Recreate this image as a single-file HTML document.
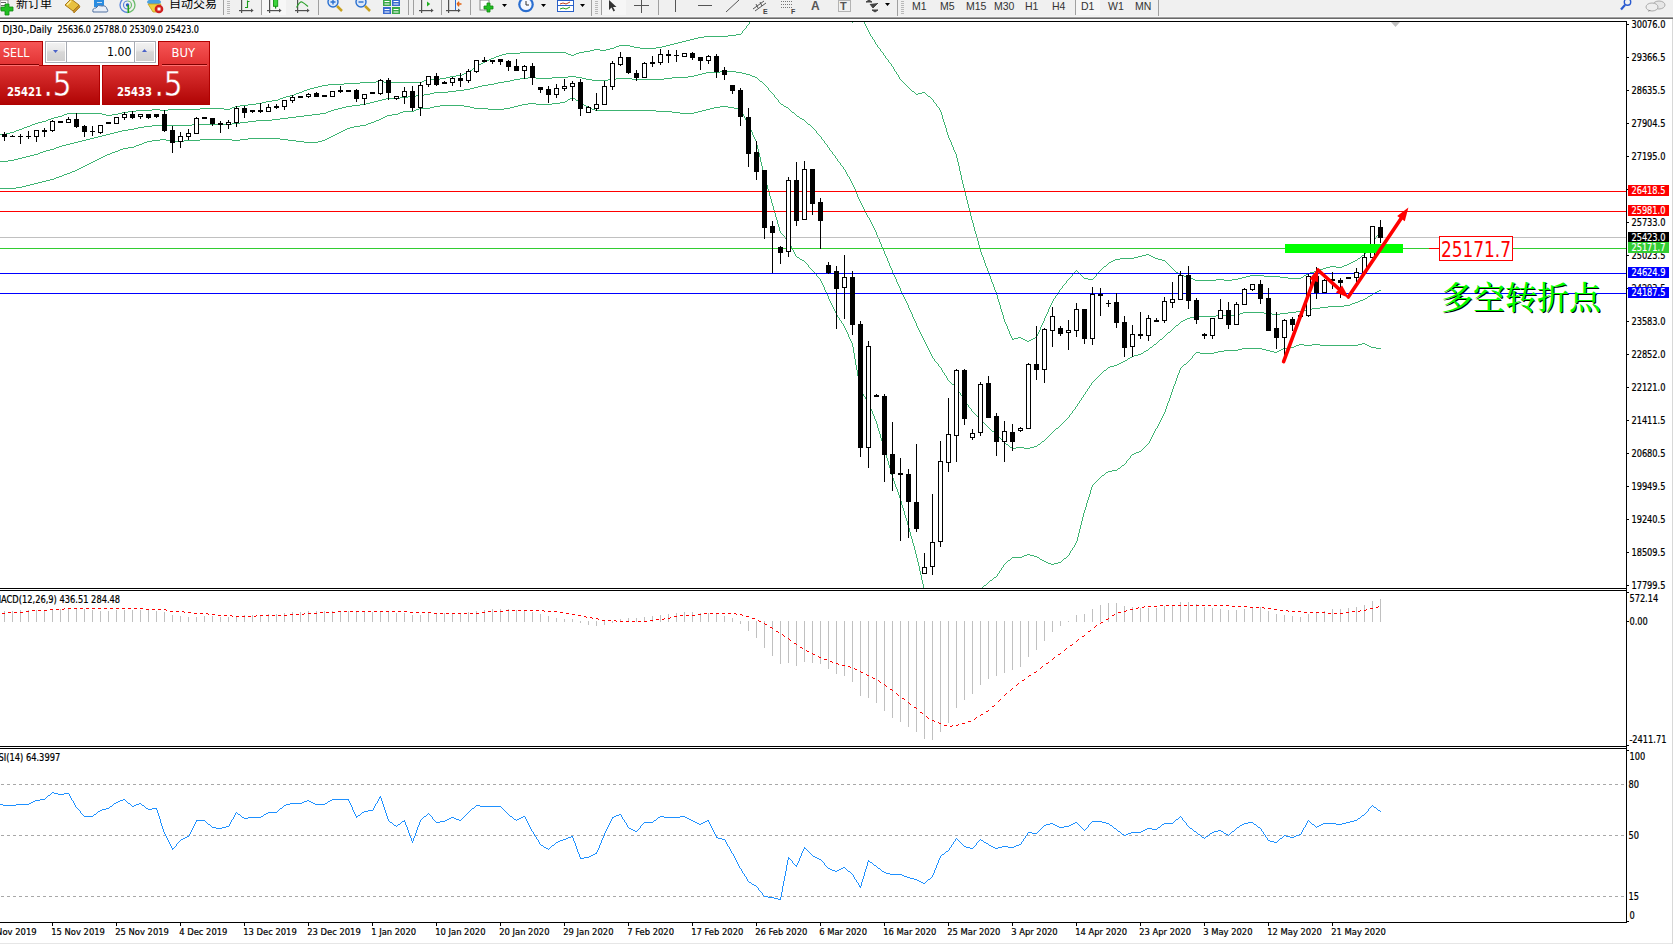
<!DOCTYPE html>
<html><head><meta charset="utf-8"><title>DJ30-,Daily</title>
<style>
html,body{margin:0;padding:0;width:1673px;height:944px;overflow:hidden;background:#fff}
body{position:relative;font-family:"Liberation Sans","Noto Sans CJK SC",sans-serif}
svg{position:absolute;left:0;top:0;display:block}
</style></head><body>
<svg width="1673" height="944" viewBox="0 0 1673 944" font-family="Liberation Sans, Noto Sans CJK SC, sans-serif">
<defs>
<clipPath id="cmain"><rect x="0" y="22" width="1626" height="566"/></clipPath>
<clipPath id="cmacd"><rect x="0" y="591" width="1626" height="155"/></clipPath>
<clipPath id="crsi"><rect x="0" y="749" width="1626" height="173"/></clipPath>
<linearGradient id="gTab" x1="0" y1="0" x2="0" y2="1"><stop offset="0" stop-color="#f65555"/><stop offset="1" stop-color="#e33434"/></linearGradient>
<linearGradient id="gBox" x1="0" y1="0" x2="0" y2="1"><stop offset="0" stop-color="#de3434"/><stop offset="1" stop-color="#b00404"/></linearGradient>
<linearGradient id="gBtn" x1="0" y1="0" x2="0" y2="1"><stop offset="0" stop-color="#f2f2f2"/><stop offset="0.4" stop-color="#e8e8e8"/><stop offset="0.5" stop-color="#d8d8d8"/><stop offset="1" stop-color="#d0d0d0"/></linearGradient>
<linearGradient id="gBoxU" gradientUnits="userSpaceOnUse" x1="0" y1="66" x2="0" y2="104"><stop offset="0" stop-color="#de3434"/><stop offset="1" stop-color="#b00404"/></linearGradient>
</defs>
<!-- toolbar -->
<rect x="0" y="0" width="1673" height="17" fill="#f0f0f0"/>
<rect x="0" y="16" width="1673" height="1" fill="#f5f5f5"/>
<rect x="0" y="17" width="1673" height="1" fill="#a0a0a0"/>
<rect x="0" y="18" width="1673" height="1" fill="#696969"/>
<rect x="1672" y="19" width="1" height="925" fill="#d8d8d8"/>
<rect x="0" y="943" width="1672" height="1" fill="#e6e6e6"/>
<g id="toolbar">
<!-- new order -->
<rect x="0" y="0" width="8" height="9" fill="#fff" stroke="#8a8a8a" stroke-width="1"/>
<rect x="1" y="2" width="5" height="1" fill="#666"/><rect x="1" y="5" width="5" height="1" fill="#666"/>
<path d="M5,4h4v3h4v4h-4v4h-4v-4h-4v-4h4z" fill="#22c022" stroke="#118811" stroke-width="0.8"/>
<text x="16" y="8" font-size="12" fill="#000" font-family="Liberation Sans, Noto Sans CJK SC, sans-serif">新订单</text>
<!-- gold book -->
<path d="M65,5 L71,-1 L79,5 L73,11 Z" fill="#e8c040" stroke="#a87818" stroke-width="1"/>
<path d="M73,11 L79,5 L80,7 L74,13 Z" fill="#c89028" stroke="#a87818" stroke-width="0.8"/>
<path d="M67,5 L71,1" stroke="#fff0a0" stroke-width="1.2"/>
<!-- cloud server -->
<rect x="94" y="0" width="10" height="7" fill="#2a8ce0"/>
<rect x="97" y="2" width="5" height="1" fill="#cde"/>
<path d="M93,12 q-1,-4 3,-4 q2,-4 6,-2 q4,-1 5,3 q2,3 -1,3 z" fill="#e8eef8" stroke="#5070a0" stroke-width="1"/>
<!-- signals -->
<path d="M127.5,-2.5 a7.5,7.5 0 0 0 0,15" fill="none" stroke="#5a86dc" stroke-width="1.3"/>
<path d="M127.5,-2.5 a7.5,7.5 0 0 1 0,15" fill="none" stroke="#6cbc6c" stroke-width="1.3"/>
<path d="M127.5,1 a4,4 0 0 0 0,8" fill="none" stroke="#5a86dc" stroke-width="1.2"/>
<path d="M127.5,1 a4,4 0 0 1 0,8" fill="none" stroke="#6cbc6c" stroke-width="1.2"/>
<circle cx="127.5" cy="5" r="1.7" fill="#2a5cc8"/>
<rect x="127.5" y="5" width="1.6" height="8" fill="#22a022"/>
<!-- autotrading -->
<ellipse cx="154" cy="2" rx="7" ry="3" fill="#4aa0e0"/>
<path d="M148,4 h13 l-4,8 h-4 z" fill="#f0d040" stroke="#c0a020" stroke-width="0.8"/>
<circle cx="159" cy="9" r="4.3" fill="#d02020"/>
<rect x="157.5" y="7.5" width="3" height="3" fill="#fff"/>
<text x="169" y="8" font-size="12" fill="#000" font-family="Liberation Sans, Noto Sans CJK SC, sans-serif">自动交易</text>
<!-- separators -->
<g fill="#a0a0a0">
<rect x="223" y="0" width="1" height="15"/><rect x="261" y="0" width="1" height="15"/><rect x="318" y="0" width="1" height="15"/>
<rect x="408" y="0" width="1" height="15"/><rect x="413" y="0" width="1" height="15"/><rect x="441" y="0" width="1" height="15"/>
<rect x="470" y="0" width="1" height="15"/><rect x="591" y="0" width="1" height="16"/><rect x="601" y="0" width="1" height="15"/>
<rect x="658" y="0" width="1" height="15"/><rect x="897" y="0" width="1" height="16"/><rect x="1075" y="0" width="1" height="15"/><rect x="1158" y="0" width="1" height="16"/>
</g>
<g fill="#b8b8b8">
<rect x="227" y="1" width="3" height="1"/><rect x="227" y="3" width="3" height="1"/><rect x="227" y="5" width="3" height="1"/><rect x="227" y="7" width="3" height="1"/><rect x="227" y="9" width="3" height="1"/><rect x="227" y="11" width="3" height="1"/><rect x="227" y="13" width="3" height="1"/>
<rect x="595" y="1" width="3" height="1"/><rect x="595" y="3" width="3" height="1"/><rect x="595" y="5" width="3" height="1"/><rect x="595" y="7" width="3" height="1"/><rect x="595" y="9" width="3" height="1"/><rect x="595" y="11" width="3" height="1"/><rect x="595" y="13" width="3" height="1"/>
<rect x="901" y="1" width="3" height="1"/><rect x="901" y="3" width="3" height="1"/><rect x="901" y="5" width="3" height="1"/><rect x="901" y="7" width="3" height="1"/><rect x="901" y="9" width="3" height="1"/><rect x="901" y="11" width="3" height="1"/><rect x="901" y="13" width="3" height="1"/>
</g>
<!-- selected button backgrounds -->
<rect x="262" y="0" width="24" height="15" fill="#f7f7f7"/>
<rect x="602" y="0" width="24" height="15" fill="#f6f6f6"/>
<rect x="1076" y="0" width="24" height="15" fill="#f6f6f6"/>
<!-- chart type icons -->
<rect x="241" y="0" width="1.2" height="13" fill="#505050"/><rect x="239" y="10" width="13" height="1.2" fill="#505050"/><path d="M251,8.6 l2.6,2 l-2.6,2 z" fill="#505050"/><rect x="269" y="0" width="1.2" height="13" fill="#505050"/><rect x="267" y="10" width="13" height="1.2" fill="#505050"/><path d="M279,8.6 l2.6,2 l-2.6,2 z" fill="#505050"/><rect x="297" y="0" width="1.2" height="13" fill="#505050"/><rect x="295" y="10" width="13" height="1.2" fill="#505050"/><path d="M307,8.6 l2.6,2 l-2.6,2 z" fill="#505050"/>
<path d="M245,7.5h2.5v-7M247.5,1.5h2" fill="none" stroke="#1a9a1a" stroke-width="1.1"/>
<rect x="273.5" y="-1" width="4.2" height="7.3" fill="#3cd33c" stroke="#139013" stroke-width="0.9"/><rect x="275" y="6" width="1.2" height="2.6" fill="#139013"/>
<path d="M296.5,7.5 Q300,1 302,2 T308,6.5" fill="none" stroke="#2aa02a" stroke-width="1.1"/>
<rect x="421" y="0" width="1.2" height="13" fill="#505050"/><rect x="419" y="10" width="13" height="1.2" fill="#505050"/><path d="M431,8.6 l2.6,2 l-2.6,2 z" fill="#505050"/><rect x="448" y="0" width="1.2" height="13" fill="#505050"/><rect x="446" y="10" width="13" height="1.2" fill="#505050"/><path d="M458,8.6 l2.6,2 l-2.6,2 z" fill="#505050"/>
<path d="M427,1.5 v5 l3.2,-2.5 z" fill="#20b020"/>
<rect x="455" y="0" width="1" height="10" fill="#2a6ad0"/><path d="M461.5,4h-4.5M457,4l2.2,-2.2M457,4l2.2,2.2" stroke="#e06010" stroke-width="1.3" fill="none"/>
<!-- zoom icons -->
<circle cx="333" cy="2" r="5" fill="#dce8f8" stroke="#2a70d0" stroke-width="1.4"/>
<path d="M330.5,2h5M333,-0.5v5" stroke="#2a70d0" stroke-width="1.4"/>
<path d="M337,6l5,5" stroke="#c8a020" stroke-width="2.5"/>
<circle cx="361" cy="2" r="5" fill="#dce8f8" stroke="#2a70d0" stroke-width="1.4"/>
<path d="M358.5,2h5" stroke="#2a70d0" stroke-width="1.4"/>
<path d="M365,6l5,5" stroke="#c8a020" stroke-width="2.5"/>
<!-- tile -->
<rect x="383" y="-1" width="8" height="7" fill="#3aa848"/><rect x="392" y="-1" width="8" height="7" fill="#3a6ad0"/>
<rect x="383" y="7" width="8" height="7" fill="#3a6ad0"/><rect x="392" y="7" width="8" height="7" fill="#3aa848"/>
<rect x="384.5" y="1" width="5" height="1" fill="#fff"/><rect x="393.5" y="1" width="5" height="1" fill="#fff"/>
<rect x="384.5" y="3.5" width="5" height="1" fill="#fff"/><rect x="393.5" y="3.5" width="5" height="1" fill="#fff"/>
<rect x="384.5" y="9" width="5" height="1" fill="#fff"/><rect x="393.5" y="9" width="5" height="1" fill="#fff"/>
<rect x="384.5" y="11.5" width="5" height="1" fill="#fff"/><rect x="393.5" y="11.5" width="5" height="1" fill="#fff"/>
<!-- indicators/periods/templates -->
<rect x="480" y="0" width="9" height="10" fill="#fff" stroke="#888" stroke-width="1"/>
<path d="M487,3h3v3h3v3h-3v3h-3v-3h-3v-3h3z" fill="#22c022" stroke="#118811" stroke-width="0.8"/>
<path d="M502,4h5l-2.5,3z M541,4h5l-2.5,3z M580,4h5l-2.5,3z M885,3h5l-2.5,3z" fill="#000"/>
<circle cx="526" cy="4.5" r="7.8" fill="#2a6ed0"/><circle cx="526" cy="4.5" r="5.6" fill="#f4f8ff"/>
<path d="M526,1v4h3" stroke="#333" stroke-width="1" fill="none"/>
<rect x="557.5" y="0.5" width="16" height="11" fill="#fff" stroke="#2a60c8" stroke-width="1"/>
<rect x="558" y="5" width="15" height="1" fill="#2a60c8"/>
<path d="M560,4 l3,-1 l3,1 l4,-2" stroke="#c04020" fill="none" stroke-width="1"/>
<path d="M560,9 l3,-1 l3,1 l4,-2" stroke="#20a020" fill="none" stroke-width="1"/>
<!-- drawing tools -->
<path d="M609,0 v10 l2.5,-2.5 l2,4 l1.5,-1 l-2,-3.5 h3.5 z" fill="#333"/>
<path d="M634,5.5h15M641.5,0v13" stroke="#555" stroke-width="1" fill="none"/>
<rect x="675" y="0" width="1" height="12" fill="#555"/>
<rect x="698" y="5" width="14" height="1" fill="#555"/>
<path d="M726,12 L739,0" stroke="#555" stroke-width="1"/>
<path d="M753,9 L764,1 M755,11 L766,3 M756,4 l2,4 M760,2 l2,4" stroke="#555" stroke-width="1" fill="none"/>
<text x="763" y="14" font-size="7" font-weight="bold" fill="#444">E</text>
<path d="M781,1.5h12M781,4.5h12M781,7.5h12" stroke="#777" stroke-width="1" stroke-dasharray="1,1" fill="none"/>
<text x="791" y="14" font-size="7" font-weight="bold" fill="#444">F</text>
<text x="811" y="10" font-size="12" font-weight="bold" fill="#555">A</text>
<rect x="838.5" y="0.5" width="12" height="11" fill="none" stroke="#777" stroke-width="1" stroke-dasharray="1,1"/>
<text x="840" y="10" font-size="11" font-weight="bold" fill="#555">T</text>
<path d="M866,2 l3,-2 l3,2 z M870,4 l3,4 l5,-5 M872,10 l3,2 l3,-2z" fill="#444" stroke="#444" stroke-width="1"/>
<!-- periods -->
<g font-size="10.5" fill="#333" font-family="Liberation Sans, sans-serif">
<text x="912" y="10">M1</text><text x="940" y="10">M5</text><text x="966" y="10">M15</text><text x="994" y="10">M30</text>
<text x="1025" y="10">H1</text><text x="1052" y="10">H4</text><text x="1081" y="10">D1</text><text x="1108" y="10">W1</text><text x="1135" y="10">MN</text>
</g>
<!-- right icons -->
<circle cx="1627.5" cy="2" r="3.2" fill="none" stroke="#2a5ad0" stroke-width="1.4"/>
<path d="M1625,5 l-4,4.5" stroke="#2a5ad0" stroke-width="2.2"/>
<ellipse cx="1659" cy="5" rx="6" ry="4" fill="#e6e6e6" stroke="#999" stroke-width="0.8"/>
<ellipse cx="1652" cy="7" rx="6" ry="4" fill="#eee" stroke="#999" stroke-width="0.8"/>
<path d="M1649,10 l-1,2 l3,-2z" fill="#888"/>
</g>

<!-- frames -->
<rect x="0" y="21" width="1627" height="1" fill="#000"/>
<rect x="0" y="588" width="1627" height="1" fill="#000"/>
<rect x="0" y="590" width="1627" height="1" fill="#000"/>
<rect x="0" y="746" width="1627" height="1" fill="#000"/>
<rect x="0" y="748" width="1627" height="1" fill="#000"/>
<rect x="0" y="922" width="1627" height="1" fill="#000"/>
<rect x="1626" y="21" width="1" height="902" fill="#000"/>
<g clip-path="url(#cmain)" shape-rendering="crispEdges">
<path d="M-4 135h4v1h-4zM0 134h6v1h-6zM6 133h4v1h-4zM10 132h4v1h-4zM14 131h2v1h-2zM16 130h3v1h-3zM19 129h3v1h-3zM22 128h2v1h-2zM24 127h3v1h-3zM27 126h3v1h-3zM30 125h2v1h-2zM32 124h3v1h-3zM35 123h3v1h-3zM38 122h4v1h-4zM42 121h4v1h-4zM46 120h2v1h-2zM48 119h3v1h-3zM51 118h3v1h-3zM54 117h4v1h-4zM58 116h4v1h-4zM62 115h2v1h-2zM64 114h3v1h-3zM67 113h35v1h-35zM102 114h4v1h-4zM106 115h6v1h-6zM112 114h6v1h-6zM118 113h4v1h-4zM122 112h6v1h-6zM128 111h8v1h-8zM136 110h16v1h-16zM152 109h8v1h-8zM160 110h8v1h-8zM168 109h32v1h-32zM200 108h24v1h-24zM224 109h6v1h-6zM230 108h2v1h-2zM232 107h3v1h-3zM235 106h5v1h-5zM240 105h8v1h-8zM248 104h8v1h-8zM256 103h6v1h-6zM262 102h4v1h-4zM266 101h6v1h-6zM272 100h6v1h-6zM278 99h2v1h-2zM280 98h3v1h-3zM283 97h3v1h-3zM286 96h4v1h-4zM290 95h4v1h-4zM294 94h2v1h-2zM296 93h3v1h-3zM299 92h3v1h-3zM302 91h2v1h-2zM304 90h3v1h-3zM307 89h3v1h-3zM310 88h4v1h-4zM314 87h4v1h-4zM318 86h4v1h-4zM322 85h6v1h-6zM328 84h16v1h-16zM344 83h16v1h-16zM360 82h16v1h-16zM376 81h8v1h-8zM384 82h38v1h-38zM422 81h2v1h-2zM424 80h3v1h-3zM427 79h13v1h-13zM440 78h6v1h-6zM446 77h4v1h-4zM450 76h6v1h-6zM456 75h6v1h-6zM462 74h2v1h-2zM464 73h3v1h-3zM467 72h2v1h-2zM469 71h1v1h-1zM470 70h2v1h-2zM472 69h1v1h-1zM473 68h1v1h-1zM474 67h2v1h-2zM476 66h1v1h-1zM477 65h2v1h-2zM479 64h2v1h-2zM481 63h2v1h-2zM483 62h2v1h-2zM485 61h2v1h-2zM487 60h2v1h-2zM489 59h2v1h-2zM491 58h3v1h-3zM494 57h2v1h-2zM496 56h3v1h-3zM499 55h3v1h-3zM502 54h4v1h-4zM506 53h14v1h-14zM520 52h46v1h-46zM566 53h2v1h-2zM568 54h3v1h-3zM571 55h3v1h-3zM574 54h2v1h-2zM576 53h3v1h-3zM579 52h5v1h-5zM584 51h6v1h-6zM590 50h4v1h-4zM594 49h6v1h-6zM600 50h6v1h-6zM606 49h4v1h-4zM610 48h4v1h-4zM614 47h2v1h-2zM616 46h3v1h-3zM619 45h11v1h-11zM630 46h4v1h-4zM634 47h6v1h-6zM640 48h16v1h-16zM656 47h6v1h-6zM662 46h4v1h-4zM666 45h4v1h-4zM670 44h4v1h-4zM674 43h4v1h-4zM678 42h4v1h-4zM682 41h4v1h-4zM686 40h4v1h-4zM690 39h4v1h-4zM694 38h4v1h-4zM698 37h6v1h-6zM704 36h24v1h-24zM728 35h8v1h-8zM736 34h5v1h-5zM741 33h1v1h-1zM742 31h1v2h-1zM743 30h1v1h-1zM744 29h1v1h-1zM745 28h1v1h-1zM746 26h1v2h-1zM747 25h1v1h-1zM748 24h1v1h-1zM749 22h1v2h-1zM750 21h1v1h-1zM751 20h1v1h-1zM752 18h1v2h-1zM753 17h1v1h-1zM754 16h1v1h-1zM755 14h1v2h-1zM756 12h1v2h-1zM757 10h1v2h-1zM758 7h1v3h-1zM759 5h1v2h-1zM760 2h1v3h-1zM761 0h1v2h-1zM762 -3h1v3h-1zM763 -5h1v2h-1zM764 -7h1v2h-1zM765 -9h1v2h-1zM766 -10h1v1h-1zM767 -11h1v1h-1zM768 -13h1v2h-1zM769 -14h1v1h-1zM770 -15h1v1h-1zM771 -17h1v2h-1zM772 -18h1v1h-1zM773 -19h1v1h-1zM774 -20h1v1h-1zM775 -21h1v1h-1zM776 -23h1v2h-1zM777 -24h1v1h-1zM778 -25h1v1h-1zM779 -26h1v1h-1zM780 -27h2v1h-2zM782 -26h4v1h-4zM786 -25h6v1h-6zM792 -26h5v1h-5zM797 -25h1v1h-1zM798 -24h2v1h-2zM800 -23h1v1h-1zM801 -22h1v1h-1zM802 -21h2v1h-2zM804 -20h1v1h-1zM805 -19h2v1h-2zM807 -18h1v1h-1zM808 -17h2v1h-2zM810 -16h2v1h-2zM812 -15h1v1h-1zM813 -14h1v1h-1zM814 -13h1v1h-1zM815 -12h1v1h-1zM816 -11h2v1h-2zM818 -10h1v1h-1zM819 -9h1v1h-1zM820 -8h1v1h-1zM821 -7h2v1h-2zM823 -6h2v1h-2zM825 -5h2v1h-2zM827 -4h2v1h-2zM829 -3h1v1h-1zM830 -2h2v1h-2zM832 -1h1v1h-1zM833 0h1v1h-1zM834 1h2v1h-2zM836 2h1v1h-1zM837 3h1v2h-1zM838 5h1v1h-1zM839 6h1v1h-1zM840 7h1v2h-1zM841 9h1v1h-1zM842 10h1v1h-1zM843 11h1v2h-1zM844 13h1v1h-1zM845 14h1v1h-1zM846 15h1v1h-1zM847 16h1v1h-1zM848 17h1v2h-1zM849 19h1v1h-1zM850 20h1v1h-1zM851 21h1v1h-1zM852 22h1v1h-1zM853 21h1v1h-1zM854 20h1v1h-1zM855 19h1v1h-1zM856 18h1v1h-1zM857 17h1v1h-1zM858 16h1v1h-1zM859 15h1v1h-1zM860 14h1v2h-1zM861 16h1v2h-1zM862 18h1v2h-1zM863 20h1v2h-1zM864 22h1v2h-1zM865 24h1v2h-1zM866 26h1v2h-1zM867 28h1v2h-1zM868 30h1v2h-1zM869 32h1v2h-1zM870 34h1v2h-1zM871 36h1v1h-1zM872 37h1v2h-1zM873 39h1v1h-1zM874 40h1v2h-1zM875 42h1v2h-1zM876 44h1v1h-1zM877 45h1v2h-1zM878 47h1v1h-1zM879 48h1v1h-1zM880 49h1v2h-1zM881 51h1v1h-1zM882 52h1v1h-1zM883 53h1v2h-1zM884 55h1v1h-1zM885 56h1v2h-1zM886 58h1v1h-1zM887 59h1v1h-1zM888 60h1v2h-1zM889 62h1v1h-1zM890 63h1v1h-1zM891 64h1v2h-1zM892 66h1v1h-1zM893 67h1v2h-1zM894 69h1v2h-1zM895 71h1v1h-1zM896 72h1v2h-1zM897 74h1v1h-1zM898 75h1v2h-1zM899 77h1v2h-1zM900 79h1v1h-1zM901 80h1v1h-1zM902 81h1v1h-1zM903 82h1v1h-1zM904 83h1v1h-1zM905 84h1v1h-1zM906 85h1v1h-1zM907 86h1v1h-1zM908 87h1v1h-1zM909 88h1v1h-1zM910 89h1v1h-1zM911 90h1v1h-1zM912 91h2v1h-2zM914 92h1v1h-1zM915 93h1v1h-1zM916 94h2v1h-2zM918 93h4v1h-4zM922 92h3v1h-3zM925 93h1v1h-1zM926 94h1v1h-1zM927 95h1v1h-1zM928 96h2v1h-2zM930 97h1v1h-1zM931 98h1v1h-1zM932 99h1v1h-1zM933 100h1v2h-1zM934 102h1v1h-1zM935 103h1v1h-1zM936 104h1v2h-1zM937 106h1v1h-1zM938 107h1v1h-1zM939 108h1v2h-1zM940 110h1v2h-1zM941 112h1v3h-1zM942 115h1v4h-1zM943 119h1v3h-1zM944 122h1v3h-1zM945 125h1v3h-1zM946 128h1v4h-1zM947 132h1v3h-1zM948 135h1v3h-1zM949 138h1v2h-1zM950 140h1v2h-1zM951 142h1v3h-1zM952 145h1v2h-1zM953 147h1v3h-1zM954 150h1v2h-1zM955 152h1v2h-1zM956 154h1v4h-1zM957 158h1v4h-1zM958 162h1v4h-1zM959 166h1v5h-1zM960 171h1v4h-1zM961 175h1v5h-1zM962 180h1v4h-1zM963 184h1v4h-1zM964 188h1v4h-1zM965 192h1v4h-1zM966 196h1v4h-1zM967 200h1v4h-1zM968 204h1v4h-1zM969 208h1v4h-1zM970 212h1v4h-1zM971 216h1v4h-1zM972 220h1v3h-1zM973 223h1v4h-1zM974 227h1v4h-1zM975 231h1v3h-1zM976 234h1v4h-1zM977 238h1v3h-1zM978 241h1v4h-1zM979 245h1v4h-1zM980 249h1v3h-1zM981 252h1v3h-1zM982 255h1v2h-1zM983 257h1v3h-1zM984 260h1v3h-1zM985 263h1v3h-1zM986 266h1v2h-1zM987 268h1v3h-1zM988 271h1v3h-1zM989 274h1v2h-1zM990 276h1v3h-1zM991 279h1v3h-1zM992 282h1v2h-1zM993 284h1v3h-1zM994 287h1v3h-1zM995 290h1v2h-1zM996 292h1v3h-1zM997 295h1v4h-1zM998 299h1v3h-1zM999 302h1v3h-1zM1000 305h1v4h-1zM1001 309h1v3h-1zM1002 312h1v3h-1zM1003 315h1v4h-1zM1004 319h1v3h-1zM1005 322h1v2h-1zM1006 324h1v2h-1zM1007 326h1v3h-1zM1008 329h1v2h-1zM1009 331h1v3h-1zM1010 334h1v2h-1zM1011 336h1v2h-1zM1012 338h1v2h-1zM1013 339h1v1h-1zM1014 338h4v1h-4zM1018 337h3v1h-3zM1021 338h2v1h-2zM1023 339h2v1h-2zM1025 340h2v1h-2zM1027 341h2v1h-2zM1029 340h2v1h-2zM1031 339h2v1h-2zM1033 338h2v1h-2zM1035 337h2v1h-2zM1036 336h1v1h-1zM1037 334h1v2h-1zM1038 332h1v2h-1zM1039 330h1v2h-1zM1040 327h1v3h-1zM1041 325h1v2h-1zM1042 323h1v2h-1zM1043 321h1v2h-1zM1044 318h1v3h-1zM1045 316h1v2h-1zM1046 314h1v2h-1zM1047 312h1v2h-1zM1048 309h1v3h-1zM1049 307h1v2h-1zM1050 305h1v2h-1zM1051 303h1v2h-1zM1052 301h1v2h-1zM1053 299h1v2h-1zM1054 298h1v1h-1zM1055 296h1v2h-1zM1056 295h1v1h-1zM1057 293h1v2h-1zM1058 292h1v1h-1zM1059 290h1v2h-1zM1060 289h1v1h-1zM1061 288h1v1h-1zM1062 286h1v2h-1zM1063 285h1v1h-1zM1064 284h1v1h-1zM1065 283h1v1h-1zM1066 281h1v2h-1zM1067 280h1v1h-1zM1068 279h1v1h-1zM1069 278h1v1h-1zM1070 277h1v1h-1zM1071 276h1v1h-1zM1072 274h1v2h-1zM1073 273h1v1h-1zM1074 272h1v1h-1zM1075 271h1v1h-1zM1076 270h1v1h-1zM1077 271h1v1h-1zM1078 272h1v1h-1zM1079 273h1v1h-1zM1080 274h1v1h-1zM1081 275h1v1h-1zM1082 276h1v1h-1zM1083 277h1v1h-1zM1084 278h4v1h-4zM1088 279h5v1h-5zM1093 278h1v1h-1zM1094 277h1v1h-1zM1095 276h1v1h-1zM1096 274h1v2h-1zM1097 273h1v1h-1zM1098 272h1v1h-1zM1099 271h1v1h-1zM1100 270h1v1h-1zM1101 269h1v1h-1zM1102 268h1v1h-1zM1103 267h1v1h-1zM1104 266h2v1h-2zM1106 265h1v1h-1zM1107 264h1v1h-1zM1108 263h1v1h-1zM1109 262h2v1h-2zM1111 261h2v1h-2zM1113 260h2v1h-2zM1115 259h5v1h-5zM1120 258h14v1h-14zM1134 257h4v1h-4zM1138 256h4v1h-4zM1142 255h4v1h-4zM1146 254h3v1h-3zM1149 255h2v1h-2zM1151 256h2v1h-2zM1153 257h2v1h-2zM1155 258h3v1h-3zM1158 259h4v1h-4zM1162 260h3v1h-3zM1165 261h1v1h-1zM1166 262h1v1h-1zM1167 263h1v1h-1zM1168 264h1v1h-1zM1169 265h1v1h-1zM1170 266h1v1h-1zM1171 267h1v1h-1zM1172 268h1v1h-1zM1173 269h1v1h-1zM1174 270h1v1h-1zM1175 271h1v1h-1zM1176 272h2v1h-2zM1178 273h1v1h-1zM1179 274h1v1h-1zM1180 275h4v1h-4zM1184 276h5v1h-5zM1189 277h2v1h-2zM1191 278h2v1h-2zM1193 279h2v1h-2zM1195 280h21v1h-21zM1216 279h8v1h-8zM1224 280h8v1h-8zM1232 279h6v1h-6zM1238 278h4v1h-4zM1242 277h4v1h-4zM1246 276h4v1h-4zM1250 275h14v1h-14zM1264 276h16v1h-16zM1280 277h8v1h-8zM1288 278h13v1h-13zM1301 277h2v1h-2zM1303 276h1v1h-1zM1304 275h2v1h-2zM1306 274h2v1h-2zM1308 273h2v1h-2zM1310 272h4v1h-4zM1314 271h4v1h-4zM1318 270h2v1h-2zM1320 269h3v1h-3zM1323 268h3v1h-3zM1326 267h4v1h-4zM1330 266h6v1h-6zM1336 267h6v1h-6zM1342 266h2v1h-2zM1344 265h3v1h-3zM1347 264h2v1h-2zM1349 263h2v1h-2zM1351 262h2v1h-2zM1353 261h2v1h-2zM1355 260h2v1h-2zM1357 259h1v1h-1zM1358 258h2v1h-2zM1360 257h1v1h-1zM1361 256h1v1h-1zM1362 255h2v1h-2zM1364 254h1v1h-1zM1365 252h1v2h-1zM1366 250h1v2h-1zM1367 249h1v1h-1zM1368 247h1v2h-1zM1369 246h1v1h-1zM1370 244h1v2h-1zM1371 242h1v2h-1zM1372 241h1v1h-1zM1373 240h1v1h-1zM1374 239h1v1h-1zM1375 238h1v1h-1zM1376 236h1v2h-1zM1377 235h1v1h-1zM1378 234h1v1h-1zM1379 233h1v1h-1zM1380 232h1v1h-1z" fill="#3cb371"/>
<path d="M-4 161h12v1h-12zM8 160h6v1h-6zM14 159h4v1h-4zM18 158h4v1h-4zM22 157h4v1h-4zM26 156h4v1h-4zM30 155h4v1h-4zM34 154h4v1h-4zM38 153h2v1h-2zM40 152h3v1h-3zM43 151h3v1h-3zM46 150h4v1h-4zM50 149h4v1h-4zM54 148h2v1h-2zM56 147h3v1h-3zM59 146h3v1h-3zM62 145h4v1h-4zM66 144h4v1h-4zM70 143h4v1h-4zM74 142h4v1h-4zM78 141h4v1h-4zM82 140h4v1h-4zM86 139h4v1h-4zM90 138h4v1h-4zM94 137h4v1h-4zM98 136h4v1h-4zM102 135h4v1h-4zM106 134h4v1h-4zM110 133h4v1h-4zM114 132h4v1h-4zM118 131h4v1h-4zM122 130h6v1h-6zM128 129h6v1h-6zM134 128h4v1h-4zM138 127h6v1h-6zM144 126h8v1h-8zM152 125h40v1h-40zM192 124h40v1h-40zM232 123h8v1h-8zM240 122h8v1h-8zM248 121h8v1h-8zM256 120h16v1h-16zM272 119h8v1h-8zM280 118h8v1h-8zM288 117h8v1h-8zM296 116h8v1h-8zM304 115h8v1h-8zM312 114h8v1h-8zM320 113h6v1h-6zM326 112h2v1h-2zM328 111h3v1h-3zM331 110h3v1h-3zM334 109h4v1h-4zM338 108h4v1h-4zM342 107h4v1h-4zM346 106h6v1h-6zM352 105h8v1h-8zM360 104h6v1h-6zM366 103h4v1h-4zM370 102h4v1h-4zM374 101h4v1h-4zM378 100h4v1h-4zM382 99h4v1h-4zM386 98h14v1h-14zM400 97h8v1h-8zM408 96h8v1h-8zM416 95h8v1h-8zM424 94h6v1h-6zM430 93h4v1h-4zM434 92h14v1h-14zM448 91h8v1h-8zM456 90h8v1h-8zM464 89h6v1h-6zM470 88h4v1h-4zM474 87h4v1h-4zM478 86h4v1h-4zM482 85h6v1h-6zM488 84h6v1h-6zM494 83h4v1h-4zM498 82h6v1h-6zM504 81h6v1h-6zM510 80h4v1h-4zM514 79h6v1h-6zM520 78h8v1h-8zM528 77h8v1h-8zM536 78h16v1h-16zM552 77h16v1h-16zM568 76h8v1h-8zM576 77h6v1h-6zM582 78h4v1h-4zM586 79h6v1h-6zM592 80h16v1h-16zM608 79h8v1h-8zM616 78h16v1h-16zM632 79h32v1h-32zM664 78h8v1h-8zM672 77h16v1h-16zM688 76h6v1h-6zM694 75h4v1h-4zM698 74h4v1h-4zM702 73h4v1h-4zM706 72h14v1h-14zM720 71h16v1h-16zM736 72h6v1h-6zM742 73h4v1h-4zM746 74h4v1h-4zM750 75h2v1h-2zM752 76h3v1h-3zM755 77h2v1h-2zM757 78h1v1h-1zM758 79h1v1h-1zM759 80h1v1h-1zM760 81h2v1h-2zM762 82h1v1h-1zM763 83h1v1h-1zM764 84h1v1h-1zM765 85h1v1h-1zM766 86h1v1h-1zM767 87h1v1h-1zM768 88h1v2h-1zM769 90h1v1h-1zM770 91h1v1h-1zM771 92h1v1h-1zM772 93h1v1h-1zM773 94h1v1h-1zM774 95h1v2h-1zM775 97h1v1h-1zM776 98h1v1h-1zM777 99h1v1h-1zM778 100h1v2h-1zM779 102h1v1h-1zM780 103h1v1h-1zM781 104h2v1h-2zM783 105h1v1h-1zM784 106h2v1h-2zM786 107h2v1h-2zM788 108h1v1h-1zM789 109h1v1h-1zM790 110h1v1h-1zM791 111h1v1h-1zM792 112h2v1h-2zM794 113h1v1h-1zM795 114h1v1h-1zM796 115h1v1h-1zM797 116h2v1h-2zM799 117h1v1h-1zM800 118h2v1h-2zM802 119h2v1h-2zM804 120h1v1h-1zM805 121h1v1h-1zM806 122h1v1h-1zM807 123h1v1h-1zM808 124h2v1h-2zM810 125h1v1h-1zM811 126h1v1h-1zM812 127h1v1h-1zM813 128h1v1h-1zM814 129h1v1h-1zM815 130h1v1h-1zM816 131h1v2h-1zM817 133h1v1h-1zM818 134h1v1h-1zM819 135h1v1h-1zM820 136h1v1h-1zM821 137h1v2h-1zM822 139h1v1h-1zM823 140h1v1h-1zM824 141h1v2h-1zM825 143h1v1h-1zM826 144h1v1h-1zM827 145h1v2h-1zM828 147h1v1h-1zM829 148h1v2h-1zM830 150h1v1h-1zM831 151h1v1h-1zM832 152h1v2h-1zM833 154h1v1h-1zM834 155h1v1h-1zM835 156h1v2h-1zM836 158h1v1h-1zM837 159h1v2h-1zM838 161h1v1h-1zM839 162h1v1h-1zM840 163h1v2h-1zM841 165h1v1h-1zM842 166h1v1h-1zM843 167h1v2h-1zM844 169h1v1h-1zM845 170h1v2h-1zM846 172h1v2h-1zM847 174h1v2h-1zM848 176h1v1h-1zM849 177h1v2h-1zM850 179h1v2h-1zM851 181h1v2h-1zM852 183h1v2h-1zM853 185h1v2h-1zM854 187h1v2h-1zM855 189h1v3h-1zM856 192h1v2h-1zM857 194h1v3h-1zM858 197h1v2h-1zM859 199h1v2h-1zM860 201h1v2h-1zM861 203h1v2h-1zM862 205h1v2h-1zM863 207h1v2h-1zM864 209h1v2h-1zM865 211h1v2h-1zM866 213h1v2h-1zM867 215h1v2h-1zM868 217h1v1h-1zM869 218h1v2h-1zM870 220h1v2h-1zM871 222h1v2h-1zM872 224h1v2h-1zM873 226h1v2h-1zM874 228h1v2h-1zM875 230h1v2h-1zM876 232h1v3h-1zM877 235h1v2h-1zM878 237h1v2h-1zM879 239h1v3h-1zM880 242h1v2h-1zM881 244h1v3h-1zM882 247h1v2h-1zM883 249h1v2h-1zM884 251h1v3h-1zM885 254h1v2h-1zM886 256h1v2h-1zM887 258h1v3h-1zM888 261h1v2h-1zM889 263h1v3h-1zM890 266h1v2h-1zM891 268h1v2h-1zM892 270h1v3h-1zM893 273h1v2h-1zM894 275h1v2h-1zM895 277h1v2h-1zM896 279h1v3h-1zM897 282h1v2h-1zM898 284h1v2h-1zM899 286h1v2h-1zM900 288h1v3h-1zM901 291h1v2h-1zM902 293h1v2h-1zM903 295h1v2h-1zM904 297h1v2h-1zM905 299h1v2h-1zM906 301h1v2h-1zM907 303h1v2h-1zM908 305h1v3h-1zM909 308h1v2h-1zM910 310h1v2h-1zM911 312h1v2h-1zM912 314h1v3h-1zM913 317h1v2h-1zM914 319h1v2h-1zM915 321h1v2h-1zM916 323h1v3h-1zM917 326h1v2h-1zM918 328h1v2h-1zM919 330h1v2h-1zM920 332h1v2h-1zM921 334h1v2h-1zM922 336h1v2h-1zM923 338h1v2h-1zM924 340h1v2h-1zM925 342h1v2h-1zM926 344h1v2h-1zM927 346h1v2h-1zM928 348h1v2h-1zM929 350h1v2h-1zM930 352h1v2h-1zM931 354h1v2h-1zM932 356h1v2h-1zM933 358h1v1h-1zM934 359h1v2h-1zM935 361h1v1h-1zM936 362h1v1h-1zM937 363h1v1h-1zM938 364h1v2h-1zM939 366h1v1h-1zM940 367h1v1h-1zM941 368h1v2h-1zM942 370h1v2h-1zM943 372h1v1h-1zM944 373h1v2h-1zM945 375h1v1h-1zM946 376h1v2h-1zM947 378h1v2h-1zM948 380h1v1h-1zM949 381h1v1h-1zM950 382h1v1h-1zM951 383h1v1h-1zM952 384h2v1h-2zM954 385h1v1h-1zM955 386h1v1h-1zM956 387h1v1h-1zM957 388h1v2h-1zM958 390h1v2h-1zM959 392h1v1h-1zM960 393h1v2h-1zM961 395h1v1h-1zM962 396h1v2h-1zM963 398h1v2h-1zM964 400h1v1h-1zM965 401h1v2h-1zM966 403h1v1h-1zM967 404h1v1h-1zM968 405h1v2h-1zM969 407h1v1h-1zM970 408h1v1h-1zM971 409h1v2h-1zM972 411h1v1h-1zM973 412h1v1h-1zM974 413h1v1h-1zM975 414h1v1h-1zM976 415h1v1h-1zM977 416h1v1h-1zM978 417h1v1h-1zM979 418h1v1h-1zM980 419h1v1h-1zM981 420h1v1h-1zM982 421h1v1h-1zM983 422h1v1h-1zM984 423h1v1h-1zM985 424h1v1h-1zM986 425h1v1h-1zM987 426h1v1h-1zM988 427h1v1h-1zM989 428h1v1h-1zM990 429h1v1h-1zM991 430h1v1h-1zM992 431h2v1h-2zM994 432h1v1h-1zM995 433h1v1h-1zM996 434h1v1h-1zM997 435h1v1h-1zM998 436h1v1h-1zM999 437h1v1h-1zM1000 438h1v1h-1zM1001 439h1v1h-1zM1002 440h1v1h-1zM1003 441h1v1h-1zM1004 442h1v1h-1zM1005 443h1v1h-1zM1006 444h2v1h-2zM1008 445h1v1h-1zM1009 446h1v1h-1zM1010 447h2v1h-2zM1012 448h4v1h-4zM1016 447h8v1h-8zM1024 448h6v1h-6zM1030 447h4v1h-4zM1034 446h3v1h-3zM1037 445h1v1h-1zM1038 444h2v1h-2zM1040 443h1v1h-1zM1041 442h1v1h-1zM1042 441h2v1h-2zM1044 440h1v1h-1zM1045 439h1v1h-1zM1046 438h1v1h-1zM1047 437h1v1h-1zM1048 436h1v1h-1zM1049 435h1v1h-1zM1050 434h1v1h-1zM1051 433h1v1h-1zM1052 432h1v1h-1zM1053 431h1v1h-1zM1054 430h1v1h-1zM1055 429h1v1h-1zM1056 428h2v1h-2zM1058 427h1v1h-1zM1059 426h1v1h-1zM1060 425h1v1h-1zM1061 424h1v1h-1zM1062 423h1v1h-1zM1063 422h1v1h-1zM1064 421h1v1h-1zM1065 420h1v1h-1zM1066 419h1v1h-1zM1067 418h1v1h-1zM1068 417h1v1h-1zM1069 415h1v2h-1zM1070 414h1v1h-1zM1071 413h1v1h-1zM1072 411h1v2h-1zM1073 410h1v1h-1zM1074 409h1v1h-1zM1075 407h1v2h-1zM1076 406h1v1h-1zM1077 404h1v2h-1zM1078 403h1v1h-1zM1079 401h1v2h-1zM1080 400h1v1h-1zM1081 398h1v2h-1zM1082 397h1v1h-1zM1083 395h1v2h-1zM1084 394h1v1h-1zM1085 392h1v2h-1zM1086 391h1v1h-1zM1087 389h1v2h-1zM1088 388h1v1h-1zM1089 386h1v2h-1zM1090 385h1v1h-1zM1091 383h1v2h-1zM1092 382h1v1h-1zM1093 381h1v1h-1zM1094 380h1v1h-1zM1095 379h1v1h-1zM1096 378h1v1h-1zM1097 377h1v1h-1zM1098 376h1v1h-1zM1099 375h1v1h-1zM1100 374h1v1h-1zM1101 373h1v1h-1zM1102 372h1v1h-1zM1103 371h1v1h-1zM1104 370h2v1h-2zM1106 369h1v1h-1zM1107 368h1v1h-1zM1108 367h2v1h-2zM1110 366h4v1h-4zM1114 365h3v1h-3zM1117 364h2v1h-2zM1119 363h2v1h-2zM1121 362h2v1h-2zM1123 361h2v1h-2zM1125 360h2v1h-2zM1127 359h1v1h-1zM1128 358h2v1h-2zM1130 357h2v1h-2zM1132 356h2v1h-2zM1134 355h4v1h-4zM1138 354h3v1h-3zM1141 353h2v1h-2zM1143 352h1v1h-1zM1144 351h2v1h-2zM1146 350h2v1h-2zM1148 349h1v1h-1zM1149 348h1v1h-1zM1150 347h2v1h-2zM1152 346h1v1h-1zM1153 345h1v1h-1zM1154 344h2v1h-2zM1156 343h1v1h-1zM1157 342h1v1h-1zM1158 341h1v1h-1zM1159 340h1v1h-1zM1160 339h2v1h-2zM1162 338h1v1h-1zM1163 337h1v1h-1zM1164 336h1v1h-1zM1165 335h1v1h-1zM1166 334h1v1h-1zM1167 333h1v1h-1zM1168 332h2v1h-2zM1170 331h1v1h-1zM1171 330h1v1h-1zM1172 329h1v1h-1zM1173 328h1v1h-1zM1174 327h1v1h-1zM1175 326h1v1h-1zM1176 325h2v1h-2zM1178 324h1v1h-1zM1179 323h1v1h-1zM1180 322h1v1h-1zM1181 321h2v1h-2zM1183 320h2v1h-2zM1185 319h2v1h-2zM1187 318h3v1h-3zM1190 317h4v1h-4zM1194 316h22v1h-22zM1216 315h22v1h-22zM1238 314h2v1h-2zM1240 313h3v1h-3zM1243 312h21v1h-21zM1264 313h8v1h-8zM1272 314h8v1h-8zM1280 313h8v1h-8zM1288 312h8v1h-8zM1296 311h6v1h-6zM1302 310h4v1h-4zM1306 309h6v1h-6zM1312 308h8v1h-8zM1320 307h8v1h-8zM1328 306h16v1h-16zM1344 305h6v1h-6zM1350 304h2v1h-2zM1352 303h3v1h-3zM1355 302h3v1h-3zM1358 301h2v1h-2zM1360 300h3v1h-3zM1363 299h2v1h-2zM1365 298h2v1h-2zM1367 297h1v1h-1zM1368 296h2v1h-2zM1370 295h2v1h-2zM1372 294h1v1h-1zM1373 293h2v1h-2zM1375 292h2v1h-2zM1377 291h2v1h-2zM1379 290h2v1h-2z" fill="#3cb371"/>
<path d="M-4 188h20v1h-20zM16 187h6v1h-6zM22 186h4v1h-4zM26 185h4v1h-4zM30 184h4v1h-4zM34 183h4v1h-4zM38 182h4v1h-4zM42 181h4v1h-4zM46 180h4v1h-4zM50 179h4v1h-4zM54 178h2v1h-2zM56 177h3v1h-3zM59 176h3v1h-3zM62 175h2v1h-2zM64 174h3v1h-3zM67 173h3v1h-3zM70 172h2v1h-2zM72 171h3v1h-3zM75 170h2v1h-2zM77 169h2v1h-2zM79 168h2v1h-2zM81 167h2v1h-2zM83 166h2v1h-2zM85 165h2v1h-2zM87 164h2v1h-2zM89 163h2v1h-2zM91 162h2v1h-2zM93 161h2v1h-2zM95 160h2v1h-2zM97 159h2v1h-2zM99 158h2v1h-2zM101 157h2v1h-2zM103 156h2v1h-2zM105 155h2v1h-2zM107 154h3v1h-3zM110 153h2v1h-2zM112 152h3v1h-3zM115 151h3v1h-3zM118 150h2v1h-2zM120 149h3v1h-3zM123 148h5v1h-5zM128 147h6v1h-6zM134 146h2v1h-2zM136 145h3v1h-3zM139 144h3v1h-3zM142 143h2v1h-2zM144 142h3v1h-3zM147 141h5v1h-5zM152 140h8v1h-8zM160 139h6v1h-6zM166 140h4v1h-4zM170 141h14v1h-14zM184 140h16v1h-16zM200 139h32v1h-32zM232 140h8v1h-8zM240 139h8v1h-8zM248 138h32v1h-32zM280 139h8v1h-8zM288 140h8v1h-8zM296 141h8v1h-8zM304 142h14v1h-14zM318 141h4v1h-4zM322 140h3v1h-3zM325 139h2v1h-2zM327 138h2v1h-2zM329 137h2v1h-2zM331 136h2v1h-2zM333 135h2v1h-2zM335 134h2v1h-2zM337 133h2v1h-2zM339 132h2v1h-2zM341 131h2v1h-2zM343 130h2v1h-2zM345 129h2v1h-2zM347 128h3v1h-3zM350 127h4v1h-4zM354 126h6v1h-6zM360 125h6v1h-6zM366 124h2v1h-2zM368 123h3v1h-3zM371 122h3v1h-3zM374 121h2v1h-2zM376 120h3v1h-3zM379 119h2v1h-2zM381 118h2v1h-2zM383 117h2v1h-2zM385 116h2v1h-2zM387 115h5v1h-5zM392 114h6v1h-6zM398 113h2v1h-2zM400 112h3v1h-3zM403 111h11v1h-11zM414 110h2v1h-2zM416 109h3v1h-3zM419 108h11v1h-11zM430 107h4v1h-4zM434 106h6v1h-6zM440 105h24v1h-24zM464 106h6v1h-6zM470 107h4v1h-4zM474 108h14v1h-14zM488 109h16v1h-16zM504 108h6v1h-6zM510 107h4v1h-4zM514 106h4v1h-4zM518 105h4v1h-4zM522 104h6v1h-6zM528 103h8v1h-8zM536 104h16v1h-16zM552 103h8v1h-8zM560 102h5v1h-5zM565 101h2v1h-2zM567 100h1v1h-1zM568 99h2v1h-2zM570 98h2v1h-2zM572 97h1v1h-1zM573 98h2v1h-2zM575 99h1v1h-1zM576 100h2v1h-2zM578 101h2v1h-2zM580 102h1v1h-1zM581 103h2v1h-2zM583 104h1v1h-1zM584 105h2v1h-2zM586 106h2v1h-2zM588 107h2v1h-2zM590 108h2v1h-2zM592 109h3v1h-3zM595 110h61v1h-61zM656 111h16v1h-16zM672 112h8v1h-8zM680 113h14v1h-14zM694 112h4v1h-4zM698 111h4v1h-4zM702 110h4v1h-4zM706 109h4v1h-4zM710 108h4v1h-4zM714 107h6v1h-6zM720 106h8v1h-8zM728 107h6v1h-6zM734 108h4v1h-4zM738 109h3v1h-3zM741 110h1v2h-1zM742 112h1v2h-1zM743 114h1v2h-1zM744 116h1v2h-1zM745 118h1v2h-1zM746 120h1v2h-1zM747 122h1v2h-1zM748 124h1v2h-1zM749 126h1v2h-1zM750 128h1v2h-1zM751 130h1v2h-1zM752 132h1v3h-1zM753 135h1v2h-1zM754 137h1v2h-1zM755 139h1v2h-1zM756 141h1v4h-1zM757 145h1v4h-1zM758 149h1v4h-1zM759 153h1v4h-1zM760 157h1v5h-1zM761 162h1v4h-1zM762 166h1v4h-1zM763 170h1v4h-1zM764 174h1v4h-1zM765 178h1v4h-1zM766 182h1v3h-1zM767 185h1v4h-1zM768 189h1v3h-1zM769 192h1v4h-1zM770 196h1v3h-1zM771 199h1v4h-1zM772 203h1v3h-1zM773 206h1v4h-1zM774 210h1v3h-1zM775 213h1v4h-1zM776 217h1v3h-1zM777 220h1v4h-1zM778 224h1v3h-1zM779 227h1v4h-1zM780 231h1v2h-1zM781 233h1v1h-1zM782 234h1v1h-1zM783 235h1v1h-1zM784 236h1v2h-1zM785 238h1v1h-1zM786 239h1v1h-1zM787 240h1v1h-1zM788 241h1v1h-1zM789 242h1v2h-1zM790 244h1v2h-1zM791 246h1v2h-1zM792 248h1v2h-1zM793 250h1v2h-1zM794 252h1v2h-1zM795 254h1v2h-1zM796 256h1v1h-1zM797 257h2v1h-2zM799 258h1v1h-1zM800 259h2v1h-2zM802 260h2v1h-2zM804 261h1v1h-1zM805 262h1v1h-1zM806 263h1v1h-1zM807 264h1v1h-1zM808 265h1v2h-1zM809 267h1v1h-1zM810 268h1v1h-1zM811 269h1v1h-1zM812 270h1v1h-1zM813 271h1v1h-1zM814 272h1v1h-1zM815 273h1v1h-1zM816 274h1v2h-1zM817 276h1v1h-1zM818 277h1v1h-1zM819 278h1v1h-1zM820 279h1v2h-1zM821 281h1v2h-1zM822 283h1v2h-1zM823 285h1v2h-1zM824 287h1v3h-1zM825 290h1v2h-1zM826 292h1v2h-1zM827 294h1v2h-1zM828 296h1v3h-1zM829 299h1v2h-1zM830 301h1v2h-1zM831 303h1v2h-1zM832 305h1v2h-1zM833 307h1v2h-1zM834 309h1v2h-1zM835 311h1v2h-1zM836 313h1v2h-1zM837 315h1v2h-1zM838 317h1v1h-1zM839 318h1v2h-1zM840 320h1v1h-1zM841 321h1v2h-1zM842 323h1v1h-1zM843 324h1v2h-1zM844 326h1v2h-1zM845 328h1v2h-1zM846 330h1v2h-1zM847 332h1v2h-1zM848 334h1v3h-1zM849 337h1v2h-1zM850 339h1v2h-1zM851 341h1v2h-1zM852 343h1v4h-1zM853 347h1v6h-1zM854 353h1v6h-1zM855 359h1v6h-1zM856 365h1v5h-1zM857 370h1v6h-1zM858 376h1v6h-1zM859 382h1v6h-1zM860 388h1v3h-1zM861 391h1v2h-1zM862 393h1v1h-1zM863 394h1v2h-1zM864 396h1v1h-1zM865 397h1v2h-1zM866 399h1v1h-1zM867 400h1v2h-1zM868 402h1v2h-1zM869 404h1v2h-1zM870 406h1v3h-1zM871 409h1v2h-1zM872 411h1v3h-1zM873 414h1v2h-1zM874 416h1v3h-1zM875 419h1v2h-1zM876 421h1v3h-1zM877 424h1v4h-1zM878 428h1v3h-1zM879 431h1v3h-1zM880 434h1v4h-1zM881 438h1v3h-1zM882 441h1v3h-1zM883 444h1v4h-1zM884 448h1v3h-1zM885 451h1v4h-1zM886 455h1v3h-1zM887 458h1v3h-1zM888 461h1v4h-1zM889 465h1v3h-1zM890 468h1v3h-1zM891 471h1v4h-1zM892 475h1v3h-1zM893 478h1v3h-1zM894 481h1v3h-1zM895 484h1v3h-1zM896 487h1v2h-1zM897 489h1v3h-1zM898 492h1v3h-1zM899 495h1v3h-1zM900 498h1v3h-1zM901 501h1v4h-1zM902 505h1v3h-1zM903 508h1v3h-1zM904 511h1v4h-1zM905 515h1v3h-1zM906 518h1v3h-1zM907 521h1v4h-1zM908 525h1v3h-1zM909 528h1v4h-1zM910 532h1v4h-1zM911 536h1v3h-1zM912 539h1v4h-1zM913 543h1v3h-1zM914 546h1v4h-1zM915 550h1v4h-1zM916 554h1v4h-1zM917 558h1v4h-1zM918 562h1v4h-1zM919 566h1v5h-1zM920 571h1v4h-1zM921 575h1v5h-1zM922 580h1v4h-1zM923 584h1v4h-1zM924 588h1v4h-1zM925 592h1v3h-1zM926 595h1v3h-1zM927 598h1v3h-1zM928 601h1v4h-1zM929 605h1v3h-1zM930 608h1v3h-1zM931 611h1v3h-1zM932 614h1v2h-1zM933 616h1v1h-1zM934 617h1v1h-1zM935 618h1v1h-1zM936 619h1v2h-1zM937 621h1v1h-1zM938 622h1v1h-1zM939 623h1v1h-1zM940 624h9v1h-9zM949 623h2v1h-2zM951 622h2v1h-2zM953 621h2v1h-2zM955 620h2v1h-2zM957 619h1v1h-1zM958 617h1v2h-1zM959 616h1v1h-1zM960 615h1v1h-1zM961 614h1v1h-1zM962 612h1v2h-1zM963 611h1v1h-1zM964 610h1v1h-1zM965 609h1v1h-1zM966 608h1v1h-1zM967 607h1v1h-1zM968 605h1v2h-1zM969 604h1v1h-1zM970 603h1v1h-1zM971 602h1v1h-1zM972 601h1v1h-1zM973 599h1v2h-1zM974 598h1v1h-1zM975 596h1v2h-1zM976 595h1v1h-1zM977 593h1v2h-1zM978 592h1v1h-1zM979 590h1v2h-1zM980 589h1v1h-1zM981 588h1v1h-1zM982 587h1v1h-1zM983 586h1v1h-1zM984 585h2v1h-2zM986 584h1v1h-1zM987 583h1v1h-1zM988 582h1v1h-1zM989 581h1v1h-1zM990 580h2v1h-2zM992 579h1v1h-1zM993 578h1v1h-1zM994 577h2v1h-2zM996 576h1v1h-1zM997 574h1v2h-1zM998 573h1v1h-1zM999 571h1v2h-1zM1000 570h1v1h-1zM1001 568h1v2h-1zM1002 567h1v1h-1zM1003 565h1v2h-1zM1004 564h1v1h-1zM1005 563h1v1h-1zM1006 562h1v1h-1zM1007 561h1v1h-1zM1008 560h2v1h-2zM1010 559h1v1h-1zM1011 558h1v1h-1zM1012 557h10v1h-10zM1022 556h2v1h-2zM1024 555h3v1h-3zM1027 554h3v1h-3zM1030 555h4v1h-4zM1034 556h3v1h-3zM1037 557h2v1h-2zM1039 558h1v1h-1zM1040 559h2v1h-2zM1042 560h2v1h-2zM1044 561h2v1h-2zM1046 562h2v1h-2zM1048 563h3v1h-3zM1051 564h3v1h-3zM1054 563h4v1h-4zM1058 562h3v1h-3zM1061 561h1v1h-1zM1062 560h1v1h-1zM1063 559h1v1h-1zM1064 558h2v1h-2zM1066 557h1v1h-1zM1067 556h1v1h-1zM1068 555h1v1h-1zM1069 553h1v2h-1zM1070 551h1v2h-1zM1071 550h1v1h-1zM1072 548h1v2h-1zM1073 547h1v1h-1zM1074 545h1v2h-1zM1075 543h1v2h-1zM1076 541h1v2h-1zM1077 537h1v4h-1zM1078 533h1v4h-1zM1079 529h1v4h-1zM1080 525h1v4h-1zM1081 521h1v4h-1zM1082 517h1v4h-1zM1083 513h1v4h-1zM1084 510h1v3h-1zM1085 507h1v3h-1zM1086 503h1v4h-1zM1087 500h1v3h-1zM1088 497h1v3h-1zM1089 494h1v3h-1zM1090 490h1v4h-1zM1091 487h1v3h-1zM1092 485h1v2h-1zM1093 484h1v1h-1zM1094 483h1v1h-1zM1095 482h1v1h-1zM1096 481h1v1h-1zM1097 480h1v1h-1zM1098 479h1v1h-1zM1099 478h1v1h-1zM1100 477h1v1h-1zM1101 476h1v1h-1zM1102 475h2v1h-2zM1104 474h1v1h-1zM1105 473h1v1h-1zM1106 472h2v1h-2zM1108 471h4v1h-4zM1112 470h5v1h-5zM1117 469h1v1h-1zM1118 468h2v1h-2zM1120 467h1v1h-1zM1121 466h1v1h-1zM1122 465h2v1h-2zM1124 464h1v1h-1zM1125 463h1v1h-1zM1126 461h1v2h-1zM1127 460h1v1h-1zM1128 459h1v1h-1zM1129 458h1v1h-1zM1130 456h1v2h-1zM1131 455h1v1h-1zM1132 454h2v1h-2zM1134 453h2v1h-2zM1136 452h3v1h-3zM1139 451h2v1h-2zM1141 450h1v1h-1zM1142 449h1v1h-1zM1143 448h1v1h-1zM1144 447h1v1h-1zM1145 446h1v1h-1zM1146 445h1v1h-1zM1147 444h1v1h-1zM1148 443h1v1h-1zM1149 441h1v2h-1zM1150 439h1v2h-1zM1151 437h1v2h-1zM1152 435h1v2h-1zM1153 433h1v2h-1zM1154 431h1v2h-1zM1155 429h1v2h-1zM1156 428h1v1h-1zM1157 426h1v2h-1zM1158 424h1v2h-1zM1159 422h1v2h-1zM1160 420h1v2h-1zM1161 418h1v2h-1zM1162 416h1v2h-1zM1163 414h1v2h-1zM1164 412h1v2h-1zM1165 409h1v3h-1zM1166 406h1v3h-1zM1167 403h1v3h-1zM1168 401h1v2h-1zM1169 398h1v3h-1zM1170 395h1v3h-1zM1171 392h1v3h-1zM1172 389h1v3h-1zM1173 386h1v3h-1zM1174 384h1v2h-1zM1175 381h1v3h-1zM1176 378h1v3h-1zM1177 375h1v3h-1zM1178 373h1v2h-1zM1179 370h1v3h-1zM1180 368h1v2h-1zM1181 367h1v1h-1zM1182 366h1v1h-1zM1183 365h1v1h-1zM1184 364h2v1h-2zM1186 363h1v1h-1zM1187 362h1v1h-1zM1188 361h1v1h-1zM1189 360h1v1h-1zM1190 359h1v1h-1zM1191 358h1v1h-1zM1192 356h1v2h-1zM1193 355h1v1h-1zM1194 354h1v1h-1zM1195 353h1v1h-1zM1196 352h4v1h-4zM1200 353h14v1h-14zM1214 352h4v1h-4zM1218 351h6v1h-6zM1224 350h14v1h-14zM1238 349h4v1h-4zM1242 348h20v1h-20zM1262 349h4v1h-4zM1266 350h4v1h-4zM1270 351h4v1h-4zM1274 352h3v1h-3zM1277 351h2v1h-2zM1279 350h2v1h-2zM1281 349h2v1h-2zM1283 348h5v1h-5zM1288 347h6v1h-6zM1294 346h2v1h-2zM1296 345h3v1h-3zM1299 344h5v1h-5zM1304 345h8v1h-8zM1312 344h8v1h-8zM1320 345h38v1h-38zM1358 344h4v1h-4zM1362 343h3v1h-3zM1365 344h2v1h-2zM1367 345h2v1h-2zM1369 346h2v1h-2zM1371 347h5v1h-5zM1376 348h5v1h-5z" fill="#3cb371"/>
</g>
<rect x="0" y="191" width="1626" height="1" fill="#ff0000"/>
<rect x="0" y="211" width="1626" height="1" fill="#ff0000"/>
<rect x="0" y="237" width="1626" height="1" fill="#c0c0c0"/>
<rect x="0" y="248" width="1626" height="1" fill="#32cd32"/>
<rect x="0" y="273" width="1626" height="1" fill="#0000ff"/>
<rect x="0" y="293" width="1626" height="1" fill="#0000ff"/>
<g fill="#000">
<rect x="4" y="132" width="1" height="9"/>
<rect x="2" y="134" width="5" height="3"/>
<rect x="12" y="135" width="1" height="2"/>
<rect x="10" y="136" width="5" height="1"/>
<rect x="20" y="134" width="1" height="10"/>
<rect x="18" y="136" width="5" height="1"/>
<rect x="28" y="131" width="1" height="8"/>
<rect x="26" y="136" width="5" height="1"/>
<rect x="36" y="130" width="1" height="12"/>
<rect x="34" y="130" width="5" height="7"/>
<rect x="35" y="131" width="3" height="5" fill="#fff"/>
<rect x="44" y="128" width="1" height="9"/>
<rect x="42" y="130" width="5" height="2"/>
<rect x="52" y="120" width="1" height="12"/>
<rect x="50" y="121" width="5" height="10"/>
<rect x="51" y="122" width="3" height="8" fill="#fff"/>
<rect x="60" y="121" width="1" height="2"/>
<rect x="58" y="121" width="5" height="2"/>
<rect x="68" y="117" width="1" height="6"/>
<rect x="66" y="119" width="5" height="4"/>
<rect x="67" y="120" width="3" height="2" fill="#fff"/>
<rect x="76" y="113" width="1" height="15"/>
<rect x="74" y="119" width="5" height="8"/>
<rect x="84" y="125" width="1" height="12"/>
<rect x="82" y="126" width="5" height="6"/>
<rect x="92" y="126" width="1" height="10"/>
<rect x="90" y="131" width="5" height="1"/>
<rect x="100" y="125" width="1" height="9"/>
<rect x="98" y="125" width="5" height="8"/>
<rect x="99" y="126" width="3" height="6" fill="#fff"/>
<rect x="108" y="122" width="1" height="2"/>
<rect x="106" y="122" width="5" height="2"/>
<rect x="116" y="117" width="1" height="7"/>
<rect x="114" y="117" width="5" height="7"/>
<rect x="115" y="118" width="3" height="5" fill="#fff"/>
<rect x="124" y="112" width="1" height="8"/>
<rect x="122" y="114" width="5" height="4"/>
<rect x="123" y="115" width="3" height="2" fill="#fff"/>
<rect x="132" y="111" width="1" height="8"/>
<rect x="130" y="114" width="5" height="4"/>
<rect x="140" y="114" width="1" height="5"/>
<rect x="138" y="114" width="5" height="3"/>
<rect x="139" y="115" width="3" height="1" fill="#fff"/>
<rect x="148" y="114" width="1" height="5"/>
<rect x="146" y="114" width="5" height="4"/>
<rect x="156" y="114" width="1" height="4"/>
<rect x="154" y="114" width="5" height="3"/>
<rect x="164" y="110" width="1" height="22"/>
<rect x="162" y="114" width="5" height="17"/>
<rect x="172" y="126" width="1" height="27"/>
<rect x="170" y="130" width="5" height="13"/>
<rect x="180" y="132" width="1" height="16"/>
<rect x="178" y="136" width="5" height="6"/>
<rect x="179" y="137" width="3" height="4" fill="#fff"/>
<rect x="188" y="129" width="1" height="11"/>
<rect x="186" y="133" width="5" height="4"/>
<rect x="187" y="134" width="3" height="2" fill="#fff"/>
<rect x="196" y="117" width="1" height="17"/>
<rect x="194" y="118" width="5" height="16"/>
<rect x="195" y="119" width="3" height="14" fill="#fff"/>
<rect x="204" y="117" width="1" height="2"/>
<rect x="202" y="117" width="5" height="2"/>
<rect x="212" y="118" width="1" height="8"/>
<rect x="210" y="118" width="5" height="6"/>
<rect x="220" y="121" width="1" height="12"/>
<rect x="218" y="123" width="5" height="2"/>
<rect x="228" y="120" width="1" height="9"/>
<rect x="226" y="122" width="5" height="3"/>
<rect x="227" y="123" width="3" height="1" fill="#fff"/>
<rect x="236" y="106" width="1" height="21"/>
<rect x="234" y="108" width="5" height="15"/>
<rect x="235" y="109" width="3" height="13" fill="#fff"/>
<rect x="244" y="106" width="1" height="12"/>
<rect x="242" y="108" width="5" height="5"/>
<rect x="252" y="110" width="1" height="3"/>
<rect x="250" y="110" width="5" height="2"/>
<rect x="260" y="103" width="1" height="10"/>
<rect x="258" y="110" width="5" height="2"/>
<rect x="268" y="104" width="1" height="8"/>
<rect x="266" y="107" width="5" height="5"/>
<rect x="267" y="108" width="3" height="3" fill="#fff"/>
<rect x="276" y="104" width="1" height="5"/>
<rect x="274" y="106" width="5" height="2"/>
<rect x="284" y="100" width="1" height="10"/>
<rect x="282" y="100" width="5" height="7"/>
<rect x="283" y="101" width="3" height="5" fill="#fff"/>
<rect x="292" y="95" width="1" height="8"/>
<rect x="290" y="97" width="5" height="4"/>
<rect x="291" y="98" width="3" height="2" fill="#fff"/>
<rect x="300" y="96" width="1" height="2"/>
<rect x="298" y="96" width="5" height="2"/>
<rect x="308" y="93" width="1" height="5"/>
<rect x="306" y="94" width="5" height="3"/>
<rect x="307" y="95" width="3" height="1" fill="#fff"/>
<rect x="316" y="92" width="1" height="5"/>
<rect x="314" y="93" width="5" height="4"/>
<rect x="324" y="95" width="1" height="2"/>
<rect x="322" y="95" width="5" height="2"/>
<rect x="332" y="91" width="1" height="6"/>
<rect x="330" y="91" width="5" height="6"/>
<rect x="331" y="92" width="3" height="4" fill="#fff"/>
<rect x="340" y="86" width="1" height="7"/>
<rect x="338" y="90" width="5" height="2"/>
<rect x="348" y="90" width="1" height="2"/>
<rect x="346" y="90" width="5" height="2"/>
<rect x="356" y="89" width="1" height="13"/>
<rect x="354" y="90" width="5" height="9"/>
<rect x="364" y="94" width="1" height="11"/>
<rect x="362" y="94" width="5" height="5"/>
<rect x="363" y="95" width="3" height="3" fill="#fff"/>
<rect x="372" y="92" width="1" height="2"/>
<rect x="370" y="92" width="5" height="2"/>
<rect x="380" y="79" width="1" height="16"/>
<rect x="378" y="80" width="5" height="14"/>
<rect x="379" y="81" width="3" height="12" fill="#fff"/>
<rect x="388" y="78" width="1" height="22"/>
<rect x="386" y="80" width="5" height="13"/>
<rect x="396" y="96" width="1" height="4"/>
<rect x="394" y="96" width="5" height="3"/>
<rect x="395" y="97" width="3" height="1" fill="#fff"/>
<rect x="404" y="87" width="1" height="17"/>
<rect x="402" y="91" width="5" height="6"/>
<rect x="403" y="92" width="3" height="4" fill="#fff"/>
<rect x="412" y="86" width="1" height="25"/>
<rect x="410" y="91" width="5" height="17"/>
<rect x="420" y="82" width="1" height="34"/>
<rect x="418" y="85" width="5" height="23"/>
<rect x="419" y="86" width="3" height="21" fill="#fff"/>
<rect x="428" y="76" width="1" height="11"/>
<rect x="426" y="76" width="5" height="9"/>
<rect x="427" y="77" width="3" height="7" fill="#fff"/>
<rect x="436" y="73" width="1" height="13"/>
<rect x="434" y="76" width="5" height="9"/>
<rect x="444" y="81" width="1" height="3"/>
<rect x="442" y="82" width="5" height="2"/>
<rect x="452" y="77" width="1" height="9"/>
<rect x="450" y="78" width="5" height="5"/>
<rect x="451" y="79" width="3" height="3" fill="#fff"/>
<rect x="460" y="73" width="1" height="14"/>
<rect x="458" y="78" width="5" height="3"/>
<rect x="468" y="69" width="1" height="14"/>
<rect x="466" y="71" width="5" height="10"/>
<rect x="467" y="72" width="3" height="8" fill="#fff"/>
<rect x="476" y="60" width="1" height="13"/>
<rect x="474" y="60" width="5" height="12"/>
<rect x="475" y="61" width="3" height="10" fill="#fff"/>
<rect x="484" y="57" width="1" height="5"/>
<rect x="482" y="60" width="5" height="2"/>
<rect x="492" y="60" width="1" height="4"/>
<rect x="490" y="60" width="5" height="2"/>
<rect x="500" y="59" width="1" height="6"/>
<rect x="498" y="59" width="5" height="3"/>
<rect x="508" y="60" width="1" height="11"/>
<rect x="506" y="61" width="5" height="6"/>
<rect x="516" y="59" width="1" height="12"/>
<rect x="514" y="66" width="5" height="5"/>
<rect x="524" y="65" width="1" height="14"/>
<rect x="522" y="66" width="5" height="5"/>
<rect x="523" y="67" width="3" height="3" fill="#fff"/>
<rect x="532" y="63" width="1" height="22"/>
<rect x="530" y="66" width="5" height="12"/>
<rect x="540" y="87" width="1" height="6"/>
<rect x="538" y="87" width="5" height="3"/>
<rect x="548" y="86" width="1" height="17"/>
<rect x="546" y="89" width="5" height="6"/>
<rect x="556" y="84" width="1" height="14"/>
<rect x="554" y="88" width="5" height="7"/>
<rect x="555" y="89" width="3" height="5" fill="#fff"/>
<rect x="564" y="79" width="1" height="12"/>
<rect x="562" y="86" width="5" height="3"/>
<rect x="563" y="87" width="3" height="1" fill="#fff"/>
<rect x="572" y="81" width="1" height="20"/>
<rect x="570" y="83" width="5" height="4"/>
<rect x="571" y="84" width="3" height="2" fill="#fff"/>
<rect x="580" y="79" width="1" height="37"/>
<rect x="578" y="82" width="5" height="27"/>
<rect x="588" y="106" width="1" height="7"/>
<rect x="586" y="107" width="5" height="6"/>
<rect x="587" y="108" width="3" height="4" fill="#fff"/>
<rect x="596" y="93" width="1" height="18"/>
<rect x="594" y="104" width="5" height="5"/>
<rect x="595" y="105" width="3" height="3" fill="#fff"/>
<rect x="604" y="81" width="1" height="24"/>
<rect x="602" y="86" width="5" height="19"/>
<rect x="603" y="87" width="3" height="17" fill="#fff"/>
<rect x="612" y="61" width="1" height="29"/>
<rect x="610" y="63" width="5" height="24"/>
<rect x="611" y="64" width="3" height="22" fill="#fff"/>
<rect x="620" y="52" width="1" height="14"/>
<rect x="618" y="57" width="5" height="8"/>
<rect x="619" y="58" width="3" height="6" fill="#fff"/>
<rect x="628" y="57" width="1" height="17"/>
<rect x="626" y="57" width="5" height="16"/>
<rect x="636" y="70" width="1" height="11"/>
<rect x="634" y="73" width="5" height="5"/>
<rect x="644" y="62" width="1" height="16"/>
<rect x="642" y="63" width="5" height="15"/>
<rect x="643" y="64" width="3" height="13" fill="#fff"/>
<rect x="652" y="56" width="1" height="11"/>
<rect x="650" y="62" width="5" height="2"/>
<rect x="660" y="49" width="1" height="16"/>
<rect x="658" y="54" width="5" height="9"/>
<rect x="659" y="55" width="3" height="7" fill="#fff"/>
<rect x="668" y="50" width="1" height="13"/>
<rect x="666" y="54" width="5" height="2"/>
<rect x="676" y="50" width="1" height="12"/>
<rect x="674" y="55" width="5" height="1"/>
<rect x="684" y="53" width="1" height="4"/>
<rect x="682" y="53" width="5" height="4"/>
<rect x="683" y="54" width="3" height="2" fill="#fff"/>
<rect x="692" y="52" width="1" height="8"/>
<rect x="690" y="53" width="5" height="5"/>
<rect x="700" y="57" width="1" height="13"/>
<rect x="698" y="57" width="5" height="4"/>
<rect x="708" y="55" width="1" height="9"/>
<rect x="706" y="56" width="5" height="5"/>
<rect x="707" y="57" width="3" height="3" fill="#fff"/>
<rect x="716" y="54" width="1" height="24"/>
<rect x="714" y="56" width="5" height="16"/>
<rect x="724" y="67" width="1" height="13"/>
<rect x="722" y="70" width="5" height="5"/>
<rect x="732" y="85" width="1" height="9"/>
<rect x="730" y="85" width="5" height="6"/>
<rect x="740" y="88" width="1" height="38"/>
<rect x="738" y="90" width="5" height="27"/>
<rect x="748" y="108" width="1" height="59"/>
<rect x="746" y="117" width="5" height="37"/>
<rect x="756" y="141" width="1" height="39"/>
<rect x="754" y="152" width="5" height="20"/>
<rect x="764" y="170" width="1" height="69"/>
<rect x="762" y="170" width="5" height="58"/>
<rect x="772" y="221" width="1" height="52"/>
<rect x="770" y="226" width="5" height="7"/>
<rect x="780" y="246" width="1" height="18"/>
<rect x="778" y="247" width="5" height="6"/>
<rect x="788" y="177" width="1" height="80"/>
<rect x="786" y="180" width="5" height="72"/>
<rect x="787" y="181" width="3" height="70" fill="#fff"/>
<rect x="796" y="162" width="1" height="64"/>
<rect x="794" y="180" width="5" height="41"/>
<rect x="804" y="161" width="1" height="59"/>
<rect x="802" y="169" width="5" height="51"/>
<rect x="803" y="170" width="3" height="49" fill="#fff"/>
<rect x="812" y="169" width="1" height="46"/>
<rect x="810" y="169" width="5" height="35"/>
<rect x="820" y="198" width="1" height="51"/>
<rect x="818" y="202" width="5" height="19"/>
<rect x="828" y="262" width="1" height="12"/>
<rect x="826" y="265" width="5" height="8"/>
<rect x="836" y="266" width="1" height="63"/>
<rect x="834" y="271" width="5" height="18"/>
<rect x="844" y="255" width="1" height="64"/>
<rect x="842" y="277" width="5" height="11"/>
<rect x="843" y="278" width="3" height="9" fill="#fff"/>
<rect x="852" y="271" width="1" height="64"/>
<rect x="850" y="277" width="5" height="48"/>
<rect x="860" y="321" width="1" height="136"/>
<rect x="858" y="324" width="5" height="124"/>
<rect x="868" y="341" width="1" height="127"/>
<rect x="866" y="346" width="5" height="102"/>
<rect x="867" y="347" width="3" height="100" fill="#fff"/>
<rect x="876" y="394" width="1" height="3"/>
<rect x="874" y="395" width="5" height="2"/>
<rect x="884" y="394" width="1" height="88"/>
<rect x="882" y="396" width="5" height="59"/>
<rect x="892" y="422" width="1" height="69"/>
<rect x="890" y="454" width="5" height="20"/>
<rect x="900" y="458" width="1" height="83"/>
<rect x="898" y="473" width="5" height="2"/>
<rect x="908" y="469" width="1" height="69"/>
<rect x="906" y="474" width="5" height="28"/>
<rect x="916" y="444" width="1" height="88"/>
<rect x="914" y="502" width="5" height="27"/>
<rect x="924" y="553" width="1" height="21"/>
<rect x="922" y="567" width="5" height="7"/>
<rect x="923" y="568" width="3" height="5" fill="#fff"/>
<rect x="932" y="494" width="1" height="81"/>
<rect x="930" y="542" width="5" height="25"/>
<rect x="931" y="543" width="3" height="23" fill="#fff"/>
<rect x="940" y="441" width="1" height="106"/>
<rect x="938" y="461" width="5" height="81"/>
<rect x="939" y="462" width="3" height="79" fill="#fff"/>
<rect x="948" y="398" width="1" height="74"/>
<rect x="946" y="434" width="5" height="29"/>
<rect x="947" y="435" width="3" height="27" fill="#fff"/>
<rect x="956" y="369" width="1" height="93"/>
<rect x="954" y="370" width="5" height="66"/>
<rect x="955" y="371" width="3" height="64" fill="#fff"/>
<rect x="964" y="369" width="1" height="56"/>
<rect x="962" y="370" width="5" height="49"/>
<rect x="972" y="429" width="1" height="11"/>
<rect x="970" y="433" width="5" height="5"/>
<rect x="971" y="434" width="3" height="3" fill="#fff"/>
<rect x="980" y="382" width="1" height="54"/>
<rect x="978" y="384" width="5" height="49"/>
<rect x="979" y="385" width="3" height="47" fill="#fff"/>
<rect x="988" y="376" width="1" height="42"/>
<rect x="986" y="383" width="5" height="35"/>
<rect x="996" y="413" width="1" height="43"/>
<rect x="994" y="416" width="5" height="26"/>
<rect x="1004" y="421" width="1" height="41"/>
<rect x="1002" y="431" width="5" height="11"/>
<rect x="1003" y="432" width="3" height="9" fill="#fff"/>
<rect x="1012" y="424" width="1" height="27"/>
<rect x="1010" y="432" width="5" height="10"/>
<rect x="1020" y="427" width="1" height="5"/>
<rect x="1018" y="428" width="5" height="3"/>
<rect x="1019" y="429" width="3" height="1" fill="#fff"/>
<rect x="1028" y="363" width="1" height="66"/>
<rect x="1026" y="364" width="5" height="65"/>
<rect x="1027" y="365" width="3" height="63" fill="#fff"/>
<rect x="1036" y="326" width="1" height="54"/>
<rect x="1034" y="364" width="5" height="6"/>
<rect x="1044" y="328" width="1" height="55"/>
<rect x="1042" y="329" width="5" height="41"/>
<rect x="1043" y="330" width="3" height="39" fill="#fff"/>
<rect x="1052" y="307" width="1" height="40"/>
<rect x="1050" y="316" width="5" height="15"/>
<rect x="1051" y="317" width="3" height="13" fill="#fff"/>
<rect x="1060" y="326" width="1" height="10"/>
<rect x="1058" y="328" width="5" height="6"/>
<rect x="1068" y="320" width="1" height="30"/>
<rect x="1066" y="330" width="5" height="3"/>
<rect x="1067" y="331" width="3" height="1" fill="#fff"/>
<rect x="1076" y="303" width="1" height="34"/>
<rect x="1074" y="309" width="5" height="22"/>
<rect x="1075" y="310" width="3" height="20" fill="#fff"/>
<rect x="1084" y="309" width="1" height="35"/>
<rect x="1082" y="309" width="5" height="30"/>
<rect x="1092" y="287" width="1" height="58"/>
<rect x="1090" y="294" width="5" height="45"/>
<rect x="1091" y="295" width="3" height="43" fill="#fff"/>
<rect x="1100" y="288" width="1" height="28"/>
<rect x="1098" y="294" width="5" height="2"/>
<rect x="1108" y="300" width="1" height="7"/>
<rect x="1106" y="303" width="5" height="1"/>
<rect x="1116" y="293" width="1" height="35"/>
<rect x="1114" y="302" width="5" height="21"/>
<rect x="1124" y="316" width="1" height="41"/>
<rect x="1122" y="322" width="5" height="26"/>
<rect x="1132" y="325" width="1" height="32"/>
<rect x="1130" y="334" width="5" height="13"/>
<rect x="1131" y="335" width="3" height="11" fill="#fff"/>
<rect x="1140" y="312" width="1" height="27"/>
<rect x="1138" y="334" width="5" height="2"/>
<rect x="1148" y="315" width="1" height="26"/>
<rect x="1146" y="318" width="5" height="18"/>
<rect x="1147" y="319" width="3" height="16" fill="#fff"/>
<rect x="1156" y="318" width="1" height="4"/>
<rect x="1154" y="320" width="5" height="2"/>
<rect x="1164" y="297" width="1" height="26"/>
<rect x="1162" y="301" width="5" height="20"/>
<rect x="1163" y="302" width="3" height="18" fill="#fff"/>
<rect x="1172" y="282" width="1" height="26"/>
<rect x="1170" y="299" width="5" height="4"/>
<rect x="1171" y="300" width="3" height="2" fill="#fff"/>
<rect x="1180" y="271" width="1" height="29"/>
<rect x="1178" y="275" width="5" height="25"/>
<rect x="1179" y="276" width="3" height="23" fill="#fff"/>
<rect x="1188" y="266" width="1" height="43"/>
<rect x="1186" y="275" width="5" height="26"/>
<rect x="1196" y="298" width="1" height="26"/>
<rect x="1194" y="300" width="5" height="20"/>
<rect x="1204" y="333" width="1" height="6"/>
<rect x="1202" y="334" width="5" height="2"/>
<rect x="1212" y="318" width="1" height="21"/>
<rect x="1210" y="318" width="5" height="18"/>
<rect x="1211" y="319" width="3" height="16" fill="#fff"/>
<rect x="1220" y="299" width="1" height="20"/>
<rect x="1218" y="310" width="5" height="9"/>
<rect x="1219" y="311" width="3" height="7" fill="#fff"/>
<rect x="1228" y="302" width="1" height="27"/>
<rect x="1226" y="310" width="5" height="15"/>
<rect x="1236" y="302" width="1" height="23"/>
<rect x="1234" y="304" width="5" height="21"/>
<rect x="1235" y="305" width="3" height="19" fill="#fff"/>
<rect x="1244" y="288" width="1" height="17"/>
<rect x="1242" y="289" width="5" height="16"/>
<rect x="1243" y="290" width="3" height="14" fill="#fff"/>
<rect x="1252" y="284" width="1" height="7"/>
<rect x="1250" y="284" width="5" height="6"/>
<rect x="1251" y="285" width="3" height="4" fill="#fff"/>
<rect x="1260" y="280" width="1" height="24"/>
<rect x="1258" y="284" width="5" height="15"/>
<rect x="1268" y="288" width="1" height="43"/>
<rect x="1266" y="298" width="5" height="33"/>
<rect x="1276" y="312" width="1" height="37"/>
<rect x="1274" y="328" width="5" height="10"/>
<rect x="1284" y="319" width="1" height="36"/>
<rect x="1282" y="320" width="5" height="18"/>
<rect x="1283" y="321" width="3" height="16" fill="#fff"/>
<rect x="1292" y="317" width="1" height="14"/>
<rect x="1290" y="319" width="5" height="6"/>
<rect x="1300" y="314" width="1" height="4"/>
<rect x="1298" y="315" width="5" height="2"/>
<rect x="1308" y="274" width="1" height="43"/>
<rect x="1306" y="276" width="5" height="40"/>
<rect x="1307" y="277" width="3" height="38" fill="#fff"/>
<rect x="1316" y="267" width="1" height="32"/>
<rect x="1314" y="276" width="5" height="17"/>
<rect x="1324" y="279" width="1" height="14"/>
<rect x="1322" y="280" width="5" height="13"/>
<rect x="1323" y="281" width="3" height="11" fill="#fff"/>
<rect x="1332" y="272" width="1" height="17"/>
<rect x="1330" y="279" width="5" height="2"/>
<rect x="1340" y="278" width="1" height="20"/>
<rect x="1338" y="280" width="5" height="3"/>
<rect x="1348" y="277" width="1" height="2"/>
<rect x="1346" y="277" width="5" height="2"/>
<rect x="1356" y="268" width="1" height="14"/>
<rect x="1354" y="272" width="5" height="6"/>
<rect x="1355" y="273" width="3" height="4" fill="#fff"/>
<rect x="1364" y="253" width="1" height="20"/>
<rect x="1362" y="257" width="5" height="16"/>
<rect x="1363" y="258" width="3" height="14" fill="#fff"/>
<rect x="1372" y="226" width="1" height="32"/>
<rect x="1370" y="226" width="5" height="32"/>
<rect x="1371" y="227" width="3" height="30" fill="#fff"/>
<rect x="1380" y="220" width="1" height="23"/>
<rect x="1378" y="227" width="5" height="11"/>
</g>
<g clip-path="url(#cmacd)" fill="#c0c0c0">
<rect x="4" y="611" width="1" height="11"/>
<rect x="12" y="611" width="1" height="11"/>
<rect x="20" y="610" width="1" height="12"/>
<rect x="28" y="610" width="1" height="12"/>
<rect x="36" y="610" width="1" height="12"/>
<rect x="44" y="610" width="1" height="12"/>
<rect x="52" y="609" width="1" height="13"/>
<rect x="60" y="609" width="1" height="13"/>
<rect x="68" y="608" width="1" height="14"/>
<rect x="76" y="608" width="1" height="14"/>
<rect x="84" y="609" width="1" height="13"/>
<rect x="92" y="610" width="1" height="12"/>
<rect x="100" y="611" width="1" height="11"/>
<rect x="108" y="611" width="1" height="11"/>
<rect x="116" y="610" width="1" height="12"/>
<rect x="124" y="610" width="1" height="12"/>
<rect x="132" y="610" width="1" height="12"/>
<rect x="140" y="610" width="1" height="12"/>
<rect x="148" y="610" width="1" height="12"/>
<rect x="156" y="611" width="1" height="11"/>
<rect x="164" y="612" width="1" height="10"/>
<rect x="172" y="615" width="1" height="7"/>
<rect x="180" y="616" width="1" height="6"/>
<rect x="188" y="617" width="1" height="5"/>
<rect x="196" y="617" width="1" height="5"/>
<rect x="204" y="616" width="1" height="6"/>
<rect x="212" y="616" width="1" height="6"/>
<rect x="220" y="617" width="1" height="5"/>
<rect x="228" y="617" width="1" height="5"/>
<rect x="236" y="616" width="1" height="6"/>
<rect x="244" y="615" width="1" height="7"/>
<rect x="252" y="615" width="1" height="7"/>
<rect x="260" y="615" width="1" height="7"/>
<rect x="268" y="614" width="1" height="8"/>
<rect x="276" y="614" width="1" height="8"/>
<rect x="284" y="613" width="1" height="9"/>
<rect x="292" y="612" width="1" height="10"/>
<rect x="300" y="612" width="1" height="10"/>
<rect x="308" y="611" width="1" height="11"/>
<rect x="316" y="611" width="1" height="11"/>
<rect x="324" y="611" width="1" height="11"/>
<rect x="332" y="611" width="1" height="11"/>
<rect x="340" y="611" width="1" height="11"/>
<rect x="348" y="611" width="1" height="11"/>
<rect x="356" y="612" width="1" height="10"/>
<rect x="364" y="612" width="1" height="10"/>
<rect x="372" y="612" width="1" height="10"/>
<rect x="380" y="611" width="1" height="11"/>
<rect x="388" y="612" width="1" height="10"/>
<rect x="396" y="613" width="1" height="9"/>
<rect x="404" y="613" width="1" height="9"/>
<rect x="412" y="615" width="1" height="7"/>
<rect x="420" y="615" width="1" height="7"/>
<rect x="428" y="613" width="1" height="9"/>
<rect x="436" y="613" width="1" height="9"/>
<rect x="444" y="613" width="1" height="9"/>
<rect x="452" y="613" width="1" height="9"/>
<rect x="460" y="613" width="1" height="9"/>
<rect x="468" y="612" width="1" height="10"/>
<rect x="476" y="611" width="1" height="11"/>
<rect x="484" y="610" width="1" height="12"/>
<rect x="492" y="609" width="1" height="13"/>
<rect x="500" y="609" width="1" height="13"/>
<rect x="508" y="609" width="1" height="13"/>
<rect x="516" y="610" width="1" height="12"/>
<rect x="524" y="610" width="1" height="12"/>
<rect x="532" y="612" width="1" height="10"/>
<rect x="540" y="614" width="1" height="8"/>
<rect x="548" y="616" width="1" height="6"/>
<rect x="556" y="618" width="1" height="4"/>
<rect x="564" y="619" width="1" height="3"/>
<rect x="572" y="619" width="1" height="3"/>
<rect x="580" y="621" width="1" height="2"/>
<rect x="588" y="621" width="1" height="4"/>
<rect x="596" y="621" width="1" height="5"/>
<rect x="604" y="621" width="1" height="4"/>
<rect x="612" y="621" width="1" height="2"/>
<rect x="620" y="619" width="1" height="3"/>
<rect x="628" y="618" width="1" height="4"/>
<rect x="636" y="618" width="1" height="4"/>
<rect x="644" y="617" width="1" height="5"/>
<rect x="652" y="616" width="1" height="6"/>
<rect x="660" y="615" width="1" height="7"/>
<rect x="668" y="614" width="1" height="8"/>
<rect x="676" y="613" width="1" height="9"/>
<rect x="684" y="612" width="1" height="10"/>
<rect x="692" y="612" width="1" height="10"/>
<rect x="700" y="613" width="1" height="9"/>
<rect x="708" y="613" width="1" height="9"/>
<rect x="716" y="614" width="1" height="8"/>
<rect x="724" y="616" width="1" height="6"/>
<rect x="732" y="618" width="1" height="4"/>
<rect x="740" y="621" width="1" height="3"/>
<rect x="748" y="621" width="1" height="10"/>
<rect x="756" y="621" width="1" height="17"/>
<rect x="764" y="621" width="1" height="27"/>
<rect x="772" y="621" width="1" height="35"/>
<rect x="780" y="621" width="1" height="43"/>
<rect x="788" y="621" width="1" height="42"/>
<rect x="796" y="621" width="1" height="45"/>
<rect x="804" y="621" width="1" height="41"/>
<rect x="812" y="621" width="1" height="42"/>
<rect x="820" y="621" width="1" height="43"/>
<rect x="828" y="621" width="1" height="48"/>
<rect x="836" y="621" width="1" height="53"/>
<rect x="844" y="621" width="1" height="55"/>
<rect x="852" y="621" width="1" height="61"/>
<rect x="860" y="621" width="1" height="75"/>
<rect x="868" y="621" width="1" height="77"/>
<rect x="876" y="621" width="1" height="82"/>
<rect x="884" y="621" width="1" height="90"/>
<rect x="892" y="621" width="1" height="97"/>
<rect x="900" y="621" width="1" height="101"/>
<rect x="908" y="621" width="1" height="106"/>
<rect x="916" y="621" width="1" height="111"/>
<rect x="924" y="621" width="1" height="118"/>
<rect x="932" y="621" width="1" height="119"/>
<rect x="940" y="621" width="1" height="111"/>
<rect x="948" y="621" width="1" height="102"/>
<rect x="956" y="621" width="1" height="87"/>
<rect x="964" y="621" width="1" height="79"/>
<rect x="972" y="621" width="1" height="73"/>
<rect x="980" y="621" width="1" height="64"/>
<rect x="988" y="621" width="1" height="58"/>
<rect x="996" y="621" width="1" height="55"/>
<rect x="1004" y="621" width="1" height="52"/>
<rect x="1012" y="621" width="1" height="49"/>
<rect x="1020" y="621" width="1" height="46"/>
<rect x="1028" y="621" width="1" height="36"/>
<rect x="1036" y="621" width="1" height="29"/>
<rect x="1044" y="621" width="1" height="20"/>
<rect x="1052" y="621" width="1" height="11"/>
<rect x="1060" y="621" width="1" height="5"/>
<rect x="1068" y="621" width="1" height="1"/>
<rect x="1076" y="615" width="1" height="7"/>
<rect x="1084" y="614" width="1" height="8"/>
<rect x="1092" y="609" width="1" height="13"/>
<rect x="1100" y="605" width="1" height="17"/>
<rect x="1108" y="603" width="1" height="19"/>
<rect x="1116" y="603" width="1" height="19"/>
<rect x="1124" y="606" width="1" height="16"/>
<rect x="1132" y="607" width="1" height="15"/>
<rect x="1140" y="608" width="1" height="14"/>
<rect x="1148" y="608" width="1" height="14"/>
<rect x="1156" y="608" width="1" height="14"/>
<rect x="1164" y="606" width="1" height="16"/>
<rect x="1172" y="605" width="1" height="17"/>
<rect x="1180" y="602" width="1" height="20"/>
<rect x="1188" y="602" width="1" height="20"/>
<rect x="1196" y="604" width="1" height="18"/>
<rect x="1204" y="607" width="1" height="15"/>
<rect x="1212" y="608" width="1" height="14"/>
<rect x="1220" y="609" width="1" height="13"/>
<rect x="1228" y="610" width="1" height="12"/>
<rect x="1236" y="610" width="1" height="12"/>
<rect x="1244" y="609" width="1" height="13"/>
<rect x="1252" y="607" width="1" height="15"/>
<rect x="1260" y="607" width="1" height="15"/>
<rect x="1268" y="611" width="1" height="11"/>
<rect x="1276" y="614" width="1" height="8"/>
<rect x="1284" y="615" width="1" height="7"/>
<rect x="1292" y="616" width="1" height="6"/>
<rect x="1300" y="617" width="1" height="5"/>
<rect x="1308" y="614" width="1" height="8"/>
<rect x="1316" y="613" width="1" height="9"/>
<rect x="1324" y="611" width="1" height="11"/>
<rect x="1332" y="609" width="1" height="13"/>
<rect x="1340" y="609" width="1" height="13"/>
<rect x="1348" y="608" width="1" height="14"/>
<rect x="1356" y="607" width="1" height="15"/>
<rect x="1364" y="605" width="1" height="17"/>
<rect x="1372" y="601" width="1" height="21"/>
<rect x="1380" y="599" width="1" height="23"/>
</g>
<g clip-path="url(#cmacd)"><path d="M-4 613h3v1h-3zM2 613h3v1h-3zM8 612h3v1h-3zM14 612h3v1h-3zM20 612h3v1h-3zM26 611h3v1h-3zM32 610h3v1h-3zM38 610h3v1h-3zM44 610h3v1h-3zM50 609h3v1h-3zM56 609h3v1h-3zM62 609h2v1h-2zM64 608h1v1h-1zM68 608h3v1h-3zM74 608h3v1h-3zM80 608h3v1h-3zM86 608h3v1h-3zM92 608h3v1h-3zM98 608h3v1h-3zM104 608h3v1h-3zM110 608h3v1h-3zM116 608h3v1h-3zM122 608h3v1h-3zM128 608h3v1h-3zM134 608h3v1h-3zM140 608h3v1h-3zM146 609h3v1h-3zM152 609h3v1h-3zM158 609h3v1h-3zM164 609h2v1h-2zM166 610h1v1h-1zM170 611h3v1h-3zM176 611h3v1h-3zM182 611h2v1h-2zM184 612h1v1h-1zM188 612h3v1h-3zM194 613h3v1h-3zM200 613h3v1h-3zM206 613h2v1h-2zM208 614h1v1h-1zM212 614h3v1h-3zM218 615h3v1h-3zM224 615h3v1h-3zM230 615h2v1h-2zM232 616h1v1h-1zM236 616h3v1h-3zM242 616h3v1h-3zM248 616h3v1h-3zM254 616h2v1h-2zM256 615h1v1h-1zM260 615h3v1h-3zM266 615h3v1h-3zM272 615h3v1h-3zM278 615h3v1h-3zM284 615h3v1h-3zM290 614h3v1h-3zM296 614h3v1h-3zM302 614h2v1h-2zM304 613h1v1h-1zM308 613h3v1h-3zM314 613h3v1h-3zM320 612h3v1h-3zM326 612h3v1h-3zM332 612h3v1h-3zM338 611h3v1h-3zM344 611h3v1h-3zM350 611h3v1h-3zM356 611h3v1h-3zM362 611h3v1h-3zM368 611h3v1h-3zM374 611h3v1h-3zM380 611h3v1h-3zM386 611h3v1h-3zM392 611h3v1h-3zM398 611h3v1h-3zM404 611h3v1h-3zM410 612h3v1h-3zM416 612h3v1h-3zM422 612h3v1h-3zM428 612h3v1h-3zM434 613h3v1h-3zM440 613h3v1h-3zM446 613h3v1h-3zM452 613h3v1h-3zM458 613h3v1h-3zM464 613h3v1h-3zM470 613h3v1h-3zM476 613h3v1h-3zM482 612h3v1h-3zM488 611h3v1h-3zM494 611h3v1h-3zM500 611h3v1h-3zM506 610h3v1h-3zM512 610h3v1h-3zM518 610h3v1h-3zM524 610h3v1h-3zM530 610h3v1h-3zM536 610h3v1h-3zM542 610h2v1h-2zM544 611h1v1h-1zM548 611h3v1h-3zM554 611h3v1h-3zM560 612h3v1h-3zM566 613h3v1h-3zM572 614h3v1h-3zM578 615h3v1h-3zM584 616h2v1h-2zM586 617h1v1h-1zM590 617h2v1h-2zM592 618h1v1h-1zM596 618h2v1h-2zM598 619h1v1h-1zM602 620h3v1h-3zM608 620h3v1h-3zM614 620h2v1h-2zM616 621h1v1h-1zM620 621h3v1h-3zM626 621h3v1h-3zM632 621h3v1h-3zM638 621h3v1h-3zM644 621h3v1h-3zM650 620h3v1h-3zM656 619h3v1h-3zM662 619h2v1h-2zM664 618h1v1h-1zM668 618h2v1h-2zM670 617h1v1h-1zM674 616h3v1h-3zM680 615h3v1h-3zM686 615h3v1h-3zM692 615h3v1h-3zM698 614h3v1h-3zM704 613h3v1h-3zM710 613h3v1h-3zM716 613h3v1h-3zM722 613h3v1h-3zM728 613h3v1h-3zM734 613h2v1h-2zM736 614h1v1h-1zM740 614h2v1h-2zM742 615h1v1h-1zM746 616h3v1h-3zM752 618h3v1h-3zM758 620h1v1h-1zM759 621h2v1h-2zM764 623h1v1h-1zM765 624h2v1h-2zM770 627h2v1h-2zM772 628h1v1h-1zM776 631h2v1h-2zM778 632h1v1h-1zM782 634h1v1h-1zM783 635h1v1h-1zM784 636h1v1h-1zM788 638h1v1h-1zM789 639h1v1h-1zM790 640h1v1h-1zM794 643h2v1h-2zM796 644h1v1h-1zM800 647h2v1h-2zM802 648h1v1h-1zM806 650h1v1h-1zM807 651h2v1h-2zM812 653h1v1h-1zM813 654h2v1h-2zM818 656h1v1h-1zM819 657h2v1h-2zM824 659h3v1h-3zM830 661h2v1h-2zM832 662h1v1h-1zM836 663h2v1h-2zM838 664h1v1h-1zM842 665h3v1h-3zM848 666h2v1h-2zM850 667h1v1h-1zM854 668h1v1h-1zM855 669h2v1h-2zM860 671h1v1h-1zM861 672h2v1h-2zM866 674h1v1h-1zM867 675h2v1h-2zM872 677h1v1h-1zM873 678h2v1h-2zM878 680h1v1h-1zM879 681h1v1h-1zM880 682h1v1h-1zM884 684h1v1h-1zM885 685h1v1h-1zM886 686h1v1h-1zM890 689h2v1h-2zM892 690h1v1h-1zM896 693h1v1h-1zM897 694h1v1h-1zM898 695h1v1h-1zM902 698h2v1h-2zM904 699h1v1h-1zM908 702h1v1h-1zM909 703h1v1h-1zM910 704h1v1h-1zM914 707h2v1h-2zM916 708h1v1h-1zM920 712h2v1h-2zM922 713h1v1h-1zM926 716h1v1h-1zM927 717h1v1h-1zM928 718h1v1h-1zM932 720h2v1h-2zM934 721h1v1h-1zM938 722h1v1h-1zM939 723h2v1h-2zM944 725h3v1h-3zM950 726h2v1h-2zM952 725h1v1h-1zM956 725h2v1h-2zM958 724h1v1h-1zM962 723h3v1h-3zM968 721h3v1h-3zM974 719h1v1h-1zM975 718h1v1h-1zM976 717h1v1h-1zM980 715h1v1h-1zM981 714h2v1h-2zM986 711h2v1h-2zM988 710h1v1h-1zM992 706h2v1h-2zM994 705h1v1h-1zM998 701h1v1h-1zM999 700h1v1h-1zM1000 699h1v1h-1zM1004 695h1v1h-1zM1005 694h1v1h-1zM1006 693h1v1h-1zM1010 690h1v1h-1zM1011 689h1v1h-1zM1012 688h1v1h-1zM1016 685h1v1h-1zM1017 684h1v1h-1zM1018 683h1v1h-1zM1022 680h2v1h-2zM1024 679h1v1h-1zM1028 676h1v1h-1zM1029 675h2v1h-2zM1034 672h2v1h-2zM1036 671h1v1h-1zM1040 668h1v1h-1zM1041 667h1v1h-1zM1042 666h1v1h-1zM1046 663h2v1h-2zM1048 662h1v1h-1zM1052 659h1v1h-1zM1053 658h1v1h-1zM1054 657h1v1h-1zM1058 654h2v1h-2zM1060 653h1v1h-1zM1064 650h1v1h-1zM1065 649h1v1h-1zM1066 648h1v1h-1zM1070 645h2v1h-2zM1072 644h1v1h-1zM1076 641h1v1h-1zM1077 640h1v1h-1zM1078 639h1v1h-1zM1082 636h2v1h-2zM1084 635h1v1h-1zM1088 631h2v1h-2zM1090 630h1v1h-1zM1094 627h1v1h-1zM1095 626h1v1h-1zM1096 625h1v1h-1zM1100 623h1v1h-1zM1101 622h2v1h-2zM1106 619h2v1h-2zM1108 618h1v1h-1zM1112 615h2v1h-2zM1114 614h1v1h-1zM1118 612h3v1h-3zM1124 611h2v1h-2zM1126 610h1v1h-1zM1130 609h3v1h-3zM1136 608h2v1h-2zM1138 607h1v1h-1zM1142 607h2v1h-2zM1144 606h1v1h-1zM1148 606h3v1h-3zM1154 606h3v1h-3zM1160 605h3v1h-3zM1166 605h3v1h-3zM1172 605h3v1h-3zM1178 605h3v1h-3zM1184 605h3v1h-3zM1190 605h3v1h-3zM1196 605h3v1h-3zM1202 605h3v1h-3zM1208 605h3v1h-3zM1214 605h3v1h-3zM1220 605h3v1h-3zM1226 605h3v1h-3zM1232 606h3v1h-3zM1238 606h3v1h-3zM1244 606h3v1h-3zM1250 607h3v1h-3zM1256 607h3v1h-3zM1262 607h2v1h-2zM1264 608h1v1h-1zM1268 608h3v1h-3zM1274 609h3v1h-3zM1280 610h3v1h-3zM1286 610h2v1h-2zM1288 611h1v1h-1zM1292 611h3v1h-3zM1298 611h3v1h-3zM1304 612h3v1h-3zM1310 612h3v1h-3zM1316 612h3v1h-3zM1322 612h3v1h-3zM1328 613h3v1h-3zM1334 613h3v1h-3zM1340 613h3v1h-3zM1346 612h3v1h-3zM1352 611h3v1h-3zM1358 611h2v1h-2zM1360 610h1v1h-1zM1364 610h2v1h-2zM1366 609h1v1h-1zM1370 608h3v1h-3zM1376 607h2v1h-2zM1378 606h1v1h-1z" fill="#ff0000"/></g>
<g clip-path="url(#crsi)">
<line x1="1" y1="784.5" x2="1625" y2="784.5" stroke="#a8a8a8" stroke-width="1" stroke-dasharray="3,3" shape-rendering="crispEdges"/>
<line x1="1" y1="835.5" x2="1625" y2="835.5" stroke="#a8a8a8" stroke-width="1" stroke-dasharray="3,3" shape-rendering="crispEdges"/>
<line x1="1" y1="896.5" x2="1625" y2="896.5" stroke="#a8a8a8" stroke-width="1" stroke-dasharray="3,3" shape-rendering="crispEdges"/>
<path d="M-4 802h2v1h-2zM-2 803h2v1h-2zM0 804h3v1h-3zM3 805h13v1h-13zM16 804h13v1h-13zM29 803h2v1h-2zM31 802h2v1h-2zM33 801h2v1h-2zM35 800h5v1h-5zM40 799h5v1h-5zM45 798h1v1h-1zM46 797h1v1h-1zM47 796h1v1h-1zM48 795h2v1h-2zM50 794h1v1h-1zM51 793h1v1h-1zM52 792h2v1h-2zM54 793h4v1h-4zM58 794h6v1h-6zM64 793h5v1h-5zM69 794h1v2h-1zM70 796h1v2h-1zM71 798h1v2h-1zM72 800h1v1h-1zM73 801h1v2h-1zM74 803h1v2h-1zM75 805h1v2h-1zM76 807h1v1h-1zM77 808h1v1h-1zM78 809h1v1h-1zM79 810h1v1h-1zM80 811h1v2h-1zM81 813h1v1h-1zM82 814h1v1h-1zM83 815h1v1h-1zM84 816h9v1h-9zM93 815h1v1h-1zM94 814h2v1h-2zM96 813h1v1h-1zM97 812h1v1h-1zM98 811h2v1h-2zM100 810h2v1h-2zM102 809h4v1h-4zM106 808h3v1h-3zM109 807h1v1h-1zM110 806h2v1h-2zM112 805h1v1h-1zM113 804h1v1h-1zM114 803h2v1h-2zM116 802h2v1h-2zM118 801h2v1h-2zM120 800h3v1h-3zM123 799h2v1h-2zM125 800h1v1h-1zM126 801h1v1h-1zM127 802h1v1h-1zM128 803h2v1h-2zM130 804h1v1h-1zM131 805h1v1h-1zM132 806h2v1h-2zM134 805h2v1h-2zM136 804h3v1h-3zM139 803h2v1h-2zM141 804h1v1h-1zM142 805h2v1h-2zM144 806h1v1h-1zM145 807h1v1h-1zM146 808h2v1h-2zM148 809h4v1h-4zM152 808h5v1h-5zM156 809h1v1h-1zM157 810h1v3h-1zM158 813h1v3h-1zM159 816h1v3h-1zM160 819h1v4h-1zM161 823h1v3h-1zM162 826h1v3h-1zM163 829h1v3h-1zM164 832h1v2h-1zM165 834h1v2h-1zM166 836h1v2h-1zM167 838h1v2h-1zM168 840h1v2h-1zM169 842h1v2h-1zM170 844h1v2h-1zM171 846h1v2h-1zM172 848h1v2h-1zM173 848h1v1h-1zM174 847h1v1h-1zM175 846h1v1h-1zM176 844h1v2h-1zM177 843h1v1h-1zM178 842h1v1h-1zM179 841h1v1h-1zM180 840h1v1h-1zM181 839h2v1h-2zM183 838h2v1h-2zM185 837h2v1h-2zM187 836h2v1h-2zM189 834h1v2h-1zM190 832h1v2h-1zM191 830h1v2h-1zM192 828h1v2h-1zM193 826h1v2h-1zM194 824h1v2h-1zM195 822h1v2h-1zM196 820h1v2h-1zM197 820h8v1h-8zM205 821h1v1h-1zM206 822h1v1h-1zM207 823h1v1h-1zM208 824h2v1h-2zM210 825h1v1h-1zM211 826h1v1h-1zM212 827h4v1h-4zM216 828h6v1h-6zM222 827h4v1h-4zM226 826h3v1h-3zM229 824h1v2h-1zM230 822h1v2h-1zM231 820h1v2h-1zM232 819h1v1h-1zM233 817h1v2h-1zM234 815h1v2h-1zM235 813h1v2h-1zM236 812h1v1h-1zM237 813h1v1h-1zM238 814h2v1h-2zM240 815h1v1h-1zM241 816h1v1h-1zM242 817h2v1h-2zM244 818h4v1h-4zM248 817h13v1h-13zM261 816h2v1h-2zM263 815h1v1h-1zM264 814h2v1h-2zM266 813h2v1h-2zM268 812h9v1h-9zM277 811h1v1h-1zM278 810h1v1h-1zM279 809h1v1h-1zM280 808h2v1h-2zM282 807h1v1h-1zM283 806h1v1h-1zM284 805h2v1h-2zM286 804h4v1h-4zM290 803h12v1h-12zM302 802h2v1h-2zM304 801h3v1h-3zM307 800h2v1h-2zM309 801h2v1h-2zM311 802h2v1h-2zM313 803h2v1h-2zM315 804h10v1h-10zM325 803h2v1h-2zM327 802h1v1h-1zM328 801h2v1h-2zM330 800h2v1h-2zM332 799h17v1h-17zM348 800h1v1h-1zM349 801h1v2h-1zM350 803h1v2h-1zM351 805h1v2h-1zM352 807h1v3h-1zM353 810h1v2h-1zM354 812h1v2h-1zM355 814h1v2h-1zM356 816h1v2h-1zM357 816h1v1h-1zM358 815h2v1h-2zM360 814h1v1h-1zM361 813h1v1h-1zM362 812h2v1h-2zM364 811h4v1h-4zM368 810h5v1h-5zM373 808h1v2h-1zM374 806h1v2h-1zM375 804h1v2h-1zM376 803h1v1h-1zM377 801h1v2h-1zM378 799h1v2h-1zM379 797h1v2h-1zM380 796h1v2h-1zM381 798h1v3h-1zM382 801h1v3h-1zM383 804h1v3h-1zM384 807h1v3h-1zM385 810h1v3h-1zM386 813h1v3h-1zM387 816h1v3h-1zM388 819h1v2h-1zM389 821h1v1h-1zM390 822h2v1h-2zM392 823h1v1h-1zM393 824h1v1h-1zM394 825h2v1h-2zM396 826h1v1h-1zM397 825h1v1h-1zM398 824h2v1h-2zM400 823h1v1h-1zM401 822h1v1h-1zM402 821h2v1h-2zM404 820h1v2h-1zM405 822h1v3h-1zM406 825h1v2h-1zM407 827h1v3h-1zM408 830h1v3h-1zM409 833h1v3h-1zM410 836h1v2h-1zM411 838h1v3h-1zM412 841h1v2h-1zM412 841h1v1h-1zM413 838h1v3h-1zM414 836h1v2h-1zM415 833h1v3h-1zM416 830h1v3h-1zM417 827h1v3h-1zM418 825h1v2h-1zM419 822h1v3h-1zM420 820h1v2h-1zM421 819h1v1h-1zM422 818h1v1h-1zM423 817h1v1h-1zM424 816h2v1h-2zM426 815h1v1h-1zM427 814h1v1h-1zM428 813h1v1h-1zM429 814h1v1h-1zM430 815h1v1h-1zM431 816h1v1h-1zM432 817h1v2h-1zM433 819h1v1h-1zM434 820h1v1h-1zM435 821h1v1h-1zM436 822h4v1h-4zM440 821h5v1h-5zM445 820h2v1h-2zM447 819h2v1h-2zM449 818h2v1h-2zM451 817h3v1h-3zM454 818h2v1h-2zM456 819h3v1h-3zM459 820h2v1h-2zM461 819h1v1h-1zM462 818h1v1h-1zM463 817h1v1h-1zM464 816h1v1h-1zM465 815h1v1h-1zM466 814h1v1h-1zM467 813h1v1h-1zM468 812h1v1h-1zM469 811h1v1h-1zM470 810h1v1h-1zM471 809h1v1h-1zM472 808h2v1h-2zM474 807h1v1h-1zM475 806h1v1h-1zM476 805h4v1h-4zM480 806h21v1h-21zM501 807h1v1h-1zM502 808h1v1h-1zM503 809h1v1h-1zM504 810h1v1h-1zM505 811h1v1h-1zM506 812h1v1h-1zM507 813h1v1h-1zM508 814h1v1h-1zM509 815h1v1h-1zM510 816h2v1h-2zM512 817h1v1h-1zM513 818h1v1h-1zM514 819h2v1h-2zM516 820h1v1h-1zM517 819h2v1h-2zM519 818h2v1h-2zM521 817h2v1h-2zM523 816h2v1h-2zM525 817h1v2h-1zM526 819h1v2h-1zM527 821h1v2h-1zM528 823h1v2h-1zM529 825h1v2h-1zM530 827h1v2h-1zM531 829h1v2h-1zM532 831h1v1h-1zM533 832h1v2h-1zM534 834h1v2h-1zM535 836h1v1h-1zM536 837h1v2h-1zM537 839h1v1h-1zM538 840h1v2h-1zM539 842h1v2h-1zM540 844h1v1h-1zM541 845h2v1h-2zM543 846h1v1h-1zM544 847h2v1h-2zM546 848h2v1h-2zM548 849h1v1h-1zM549 848h1v1h-1zM550 847h1v1h-1zM551 846h1v1h-1zM552 845h2v1h-2zM554 844h1v1h-1zM555 843h1v1h-1zM556 842h2v1h-2zM558 841h2v1h-2zM560 840h3v1h-3zM563 839h3v1h-3zM566 838h2v1h-2zM568 837h3v1h-3zM571 836h2v1h-2zM572 837h1v1h-1zM573 838h1v3h-1zM574 841h1v2h-1zM575 843h1v3h-1zM576 846h1v3h-1zM577 849h1v3h-1zM578 852h1v2h-1zM579 854h1v3h-1zM580 857h1v2h-1zM581 858h3v1h-3zM584 857h5v1h-5zM589 856h2v1h-2zM591 855h2v1h-2zM593 854h2v1h-2zM595 853h2v1h-2zM596 852h1v1h-1zM597 850h1v2h-1zM598 848h1v2h-1zM599 845h1v3h-1zM600 843h1v2h-1zM601 840h1v3h-1zM602 838h1v2h-1zM603 836h1v2h-1zM604 833h1v3h-1zM605 831h1v2h-1zM606 829h1v2h-1zM607 827h1v2h-1zM608 825h1v2h-1zM609 823h1v2h-1zM610 821h1v2h-1zM611 819h1v2h-1zM612 817h1v2h-1zM613 817h1v1h-1zM614 816h2v1h-2zM616 815h3v1h-3zM619 814h2v1h-2zM621 815h1v2h-1zM622 817h1v2h-1zM623 819h1v1h-1zM624 820h1v2h-1zM625 822h1v1h-1zM626 823h1v2h-1zM627 825h1v2h-1zM628 827h1v1h-1zM629 828h2v1h-2zM631 829h2v1h-2zM633 830h2v1h-2zM635 831h2v1h-2zM637 830h1v1h-1zM638 829h1v1h-1zM639 828h1v1h-1zM640 826h1v2h-1zM641 825h1v1h-1zM642 824h1v1h-1zM643 823h1v1h-1zM644 822h9v1h-9zM653 821h1v1h-1zM654 820h2v1h-2zM656 819h1v1h-1zM657 818h1v1h-1zM658 817h2v1h-2zM660 816h4v1h-4zM664 817h16v1h-16zM680 816h5v1h-5zM685 817h2v1h-2zM687 818h2v1h-2zM689 819h2v1h-2zM691 820h2v1h-2zM693 821h2v1h-2zM695 822h2v1h-2zM697 823h2v1h-2zM699 824h2v1h-2zM701 823h2v1h-2zM703 822h2v1h-2zM705 821h2v1h-2zM707 820h2v1h-2zM708 821h1v1h-1zM709 822h1v2h-1zM710 824h1v2h-1zM711 826h1v2h-1zM712 828h1v2h-1zM713 830h1v2h-1zM714 832h1v2h-1zM715 834h1v2h-1zM716 836h1v2h-1zM717 837h1v1h-1zM718 838h4v1h-4zM722 839h3v1h-3zM725 840h1v2h-1zM726 842h1v2h-1zM727 844h1v2h-1zM728 846h1v1h-1zM729 847h1v2h-1zM730 849h1v2h-1zM731 851h1v2h-1zM732 853h1v1h-1zM733 854h1v2h-1zM734 856h1v2h-1zM735 858h1v2h-1zM736 860h1v2h-1zM737 862h1v2h-1zM738 864h1v2h-1zM739 866h1v2h-1zM740 868h1v1h-1zM741 869h1v2h-1zM742 871h1v2h-1zM743 873h1v1h-1zM744 874h1v2h-1zM745 876h1v1h-1zM746 877h1v2h-1zM747 879h1v2h-1zM748 881h1v1h-1zM749 882h2v1h-2zM751 883h1v1h-1zM752 884h2v1h-2zM754 885h2v1h-2zM756 886h1v1h-1zM757 887h1v1h-1zM758 888h1v2h-1zM759 890h1v1h-1zM760 891h1v1h-1zM761 892h1v1h-1zM762 893h1v2h-1zM763 895h1v1h-1zM764 896h4v1h-4zM768 897h6v1h-6zM774 898h4v1h-4zM778 899h3v1h-3zM780 897h1v2h-1zM781 892h1v5h-1zM782 886h1v6h-1zM783 881h1v5h-1zM784 876h1v5h-1zM785 871h1v5h-1zM786 865h1v6h-1zM787 860h1v5h-1zM788 857h1v3h-1zM789 858h1v1h-1zM790 859h1v1h-1zM791 860h1v1h-1zM792 861h1v2h-1zM793 863h1v1h-1zM794 864h1v1h-1zM795 865h1v1h-1zM796 865h1v2h-1zM797 863h1v2h-1zM798 861h1v2h-1zM799 858h1v3h-1zM800 856h1v2h-1zM801 853h1v3h-1zM802 851h1v2h-1zM803 849h1v2h-1zM804 847h1v2h-1zM805 848h1v1h-1zM806 849h1v1h-1zM807 850h1v1h-1zM808 851h1v1h-1zM809 852h1v1h-1zM810 853h1v1h-1zM811 854h1v1h-1zM812 855h1v1h-1zM813 856h2v1h-2zM815 857h2v1h-2zM817 858h2v1h-2zM819 859h2v1h-2zM821 860h1v1h-1zM822 861h1v1h-1zM823 862h1v1h-1zM824 863h1v2h-1zM825 865h1v1h-1zM826 866h1v1h-1zM827 867h1v1h-1zM828 868h2v1h-2zM830 869h2v1h-2zM832 870h3v1h-3zM835 871h2v1h-2zM837 870h2v1h-2zM839 869h2v1h-2zM841 868h2v1h-2zM843 867h2v1h-2zM845 868h1v1h-1zM846 869h1v1h-1zM847 870h1v1h-1zM848 871h2v1h-2zM850 872h1v1h-1zM851 873h1v1h-1zM852 874h1v1h-1zM853 875h1v2h-1zM854 877h1v2h-1zM855 879h1v1h-1zM856 880h1v2h-1zM857 882h1v1h-1zM858 883h1v2h-1zM859 885h1v2h-1zM860 886h1v2h-1zM861 882h1v4h-1zM862 879h1v3h-1zM863 876h1v3h-1zM864 872h1v4h-1zM865 869h1v3h-1zM866 866h1v3h-1zM867 862h1v4h-1zM868 860h1v2h-1zM869 861h1v1h-1zM870 862h2v1h-2zM872 863h1v1h-1zM873 864h1v1h-1zM874 865h2v1h-2zM876 866h1v1h-1zM877 867h1v1h-1zM878 868h2v1h-2zM880 869h1v1h-1zM881 870h1v1h-1zM882 871h2v1h-2zM884 872h2v1h-2zM886 873h4v1h-4zM890 874h12v1h-12zM902 875h2v1h-2zM904 876h3v1h-3zM907 877h3v1h-3zM910 878h4v1h-4zM914 879h3v1h-3zM917 880h2v1h-2zM919 881h2v1h-2zM921 882h2v1h-2zM923 883h2v1h-2zM925 882h1v1h-1zM926 881h1v1h-1zM927 880h1v1h-1zM928 879h2v1h-2zM930 878h1v1h-1zM931 877h1v1h-1zM932 875h1v2h-1zM933 873h1v2h-1zM934 870h1v3h-1zM935 868h1v2h-1zM936 865h1v3h-1zM937 863h1v2h-1zM938 860h1v3h-1zM939 858h1v2h-1zM940 856h1v2h-1zM941 855h1v1h-1zM942 854h2v1h-2zM944 853h1v1h-1zM945 852h1v1h-1zM946 851h2v1h-2zM948 850h1v1h-1zM949 848h1v2h-1zM950 847h1v1h-1zM951 845h1v2h-1zM952 844h1v1h-1zM953 842h1v2h-1zM954 841h1v1h-1zM955 839h1v2h-1zM956 838h1v1h-1zM957 839h1v1h-1zM958 840h1v1h-1zM959 841h1v1h-1zM960 842h1v1h-1zM961 843h1v1h-1zM962 844h1v1h-1zM963 845h1v1h-1zM964 846h2v1h-2zM966 847h4v1h-4zM970 848h3v1h-3zM973 847h1v1h-1zM974 846h1v1h-1zM975 845h1v1h-1zM976 843h1v2h-1zM977 842h1v1h-1zM978 841h1v1h-1zM979 840h1v1h-1zM980 839h1v1h-1zM981 840h2v1h-2zM983 841h1v1h-1zM984 842h2v1h-2zM986 843h2v1h-2zM988 844h1v1h-1zM989 845h2v1h-2zM991 846h2v1h-2zM993 847h2v1h-2zM995 848h3v1h-3zM998 847h4v1h-4zM1002 846h6v1h-6zM1008 847h6v1h-6zM1014 846h2v1h-2zM1016 845h3v1h-3zM1019 844h2v1h-2zM1021 842h1v2h-1zM1022 841h1v1h-1zM1023 839h1v2h-1zM1024 838h1v1h-1zM1025 836h1v2h-1zM1026 835h1v1h-1zM1027 833h1v2h-1zM1028 832h4v1h-4zM1032 833h5v1h-5zM1037 832h1v1h-1zM1038 831h1v1h-1zM1039 830h1v1h-1zM1040 829h1v1h-1zM1041 828h1v1h-1zM1042 827h1v1h-1zM1043 826h1v1h-1zM1044 825h2v1h-2zM1046 824h4v1h-4zM1050 823h3v1h-3zM1053 824h2v1h-2zM1055 825h2v1h-2zM1057 826h2v1h-2zM1059 827h5v1h-5zM1064 826h5v1h-5zM1069 825h2v1h-2zM1071 824h2v1h-2zM1073 823h2v1h-2zM1075 822h2v1h-2zM1077 823h1v1h-1zM1078 824h1v1h-1zM1079 825h1v1h-1zM1080 826h1v1h-1zM1081 827h1v1h-1zM1082 828h1v1h-1zM1083 829h1v1h-1zM1084 830h1v1h-1zM1085 829h1v1h-1zM1086 828h1v1h-1zM1087 827h1v1h-1zM1088 825h1v2h-1zM1089 824h1v1h-1zM1090 823h1v1h-1zM1091 822h1v1h-1zM1092 821h10v1h-10zM1102 822h4v1h-4zM1106 823h3v1h-3zM1109 824h1v1h-1zM1110 825h2v1h-2zM1112 826h1v1h-1zM1113 827h1v1h-1zM1114 828h2v1h-2zM1116 829h1v1h-1zM1117 830h1v1h-1zM1118 831h2v1h-2zM1120 832h1v1h-1zM1121 833h1v1h-1zM1122 834h2v1h-2zM1124 835h2v1h-2zM1126 834h2v1h-2zM1128 833h3v1h-3zM1131 832h10v1h-10zM1141 831h2v1h-2zM1143 830h2v1h-2zM1145 829h2v1h-2zM1147 828h5v1h-5zM1152 829h5v1h-5zM1157 828h1v1h-1zM1158 827h2v1h-2zM1160 826h1v1h-1zM1161 825h1v1h-1zM1162 824h2v1h-2zM1164 823h9v1h-9zM1173 822h1v1h-1zM1174 821h1v1h-1zM1175 820h1v1h-1zM1176 819h2v1h-2zM1178 818h1v1h-1zM1179 817h1v1h-1zM1180 816h1v1h-1zM1181 817h1v1h-1zM1182 818h1v2h-1zM1183 820h1v1h-1zM1184 821h1v1h-1zM1185 822h1v1h-1zM1186 823h1v2h-1zM1187 825h1v1h-1zM1188 826h1v1h-1zM1189 827h1v1h-1zM1190 828h2v1h-2zM1192 829h1v1h-1zM1193 830h1v1h-1zM1194 831h2v1h-2zM1196 832h1v1h-1zM1197 833h1v1h-1zM1198 834h2v1h-2zM1200 835h1v1h-1zM1201 836h1v1h-1zM1202 837h2v1h-2zM1204 838h1v1h-1zM1205 837h1v1h-1zM1206 836h2v1h-2zM1208 835h1v1h-1zM1209 834h1v1h-1zM1210 833h2v1h-2zM1212 832h2v1h-2zM1214 831h4v1h-4zM1218 830h3v1h-3zM1221 831h2v1h-2zM1223 832h1v1h-1zM1224 833h2v1h-2zM1226 834h2v1h-2zM1228 835h1v1h-1zM1229 834h1v1h-1zM1230 833h1v1h-1zM1231 832h1v1h-1zM1232 831h2v1h-2zM1234 830h1v1h-1zM1235 829h1v1h-1zM1236 828h1v1h-1zM1237 827h2v1h-2zM1239 826h1v1h-1zM1240 825h2v1h-2zM1242 824h2v1h-2zM1244 823h4v1h-4zM1248 822h5v1h-5zM1253 823h1v1h-1zM1254 824h2v1h-2zM1256 825h1v1h-1zM1257 826h1v1h-1zM1258 827h2v1h-2zM1260 828h1v1h-1zM1261 829h1v2h-1zM1262 831h1v1h-1zM1263 832h1v2h-1zM1264 834h1v1h-1zM1265 835h1v2h-1zM1266 837h1v1h-1zM1267 838h1v2h-1zM1268 840h2v1h-2zM1270 841h4v1h-4zM1274 842h3v1h-3zM1277 841h1v1h-1zM1278 840h1v1h-1zM1279 839h1v1h-1zM1280 838h2v1h-2zM1282 837h1v1h-1zM1283 836h1v1h-1zM1284 835h2v1h-2zM1286 836h4v1h-4zM1290 837h4v1h-4zM1294 836h2v1h-2zM1296 835h3v1h-3zM1299 834h2v1h-2zM1301 832h1v2h-1zM1302 830h1v2h-1zM1303 828h1v2h-1zM1304 827h1v1h-1zM1305 825h1v2h-1zM1306 823h1v2h-1zM1307 821h1v2h-1zM1308 820h1v1h-1zM1309 821h1v1h-1zM1310 822h1v1h-1zM1311 823h1v1h-1zM1312 824h2v1h-2zM1314 825h1v1h-1zM1315 826h1v1h-1zM1316 827h1v1h-1zM1317 826h2v1h-2zM1319 825h2v1h-2zM1321 824h2v1h-2zM1323 823h13v1h-13zM1336 824h6v1h-6zM1342 823h4v1h-4zM1346 822h4v1h-4zM1350 821h4v1h-4zM1354 820h3v1h-3zM1357 819h1v1h-1zM1358 818h2v1h-2zM1360 817h1v1h-1zM1361 816h1v1h-1zM1362 815h2v1h-2zM1364 814h1v1h-1zM1365 813h1v1h-1zM1366 812h1v1h-1zM1367 811h1v1h-1zM1368 809h1v2h-1zM1369 808h1v1h-1zM1370 807h1v1h-1zM1371 806h1v1h-1zM1372 805h1v1h-1zM1373 806h1v1h-1zM1374 807h2v1h-2zM1376 808h1v1h-1zM1377 809h1v1h-1zM1378 810h2v1h-2zM1380 811h1v1h-1z" fill="#1e90ff"/>
</g>
<g fill="#000"><rect x="1627" y="24" width="2" height="1"/>
<text x="1631.40" y="28" font-family="DejaVu Sans Condensed, DejaVu Sans, Liberation Sans, sans-serif" font-size="9.6" fill="#000" stroke="#000" stroke-width="0.2" textLength="34.08" lengthAdjust="spacingAndGlyphs">30076.0</text>
<rect x="1627" y="57" width="2" height="1"/>
<text x="1631.40" y="61" font-family="DejaVu Sans Condensed, DejaVu Sans, Liberation Sans, sans-serif" font-size="9.6" fill="#000" stroke="#000" stroke-width="0.2" textLength="34.08" lengthAdjust="spacingAndGlyphs">29366.5</text>
<rect x="1627" y="90" width="2" height="1"/>
<text x="1631.40" y="94" font-family="DejaVu Sans Condensed, DejaVu Sans, Liberation Sans, sans-serif" font-size="9.6" fill="#000" stroke="#000" stroke-width="0.2" textLength="34.08" lengthAdjust="spacingAndGlyphs">28635.5</text>
<rect x="1627" y="123" width="2" height="1"/>
<text x="1631.40" y="127" font-family="DejaVu Sans Condensed, DejaVu Sans, Liberation Sans, sans-serif" font-size="9.6" fill="#000" stroke="#000" stroke-width="0.2" textLength="34.08" lengthAdjust="spacingAndGlyphs">27904.5</text>
<rect x="1627" y="156" width="2" height="1"/>
<text x="1631.40" y="160" font-family="DejaVu Sans Condensed, DejaVu Sans, Liberation Sans, sans-serif" font-size="9.6" fill="#000" stroke="#000" stroke-width="0.2" textLength="34.08" lengthAdjust="spacingAndGlyphs">27195.0</text>
<rect x="1627" y="189" width="2" height="1"/>
<text x="1631.40" y="193" font-family="DejaVu Sans Condensed, DejaVu Sans, Liberation Sans, sans-serif" font-size="9.6" fill="#000" stroke="#000" stroke-width="0.2" textLength="34.08" lengthAdjust="spacingAndGlyphs">26464.0</text>
<rect x="1627" y="222" width="2" height="1"/>
<text x="1631.40" y="226" font-family="DejaVu Sans Condensed, DejaVu Sans, Liberation Sans, sans-serif" font-size="9.6" fill="#000" stroke="#000" stroke-width="0.2" textLength="34.08" lengthAdjust="spacingAndGlyphs">25733.0</text>
<rect x="1627" y="255" width="2" height="1"/>
<text x="1631.40" y="259" font-family="DejaVu Sans Condensed, DejaVu Sans, Liberation Sans, sans-serif" font-size="9.6" fill="#000" stroke="#000" stroke-width="0.2" textLength="34.08" lengthAdjust="spacingAndGlyphs">25023.5</text>
<rect x="1627" y="288" width="2" height="1"/>
<text x="1631.40" y="292" font-family="DejaVu Sans Condensed, DejaVu Sans, Liberation Sans, sans-serif" font-size="9.6" fill="#000" stroke="#000" stroke-width="0.2" textLength="34.08" lengthAdjust="spacingAndGlyphs">24293.5</text>
<rect x="1627" y="321" width="2" height="1"/>
<text x="1631.40" y="325" font-family="DejaVu Sans Condensed, DejaVu Sans, Liberation Sans, sans-serif" font-size="9.6" fill="#000" stroke="#000" stroke-width="0.2" textLength="34.08" lengthAdjust="spacingAndGlyphs">23583.0</text>
<rect x="1627" y="354" width="2" height="1"/>
<text x="1631.40" y="358" font-family="DejaVu Sans Condensed, DejaVu Sans, Liberation Sans, sans-serif" font-size="9.6" fill="#000" stroke="#000" stroke-width="0.2" textLength="34.08" lengthAdjust="spacingAndGlyphs">22852.0</text>
<rect x="1627" y="387" width="2" height="1"/>
<text x="1631.40" y="391" font-family="DejaVu Sans Condensed, DejaVu Sans, Liberation Sans, sans-serif" font-size="9.6" fill="#000" stroke="#000" stroke-width="0.2" textLength="34.08" lengthAdjust="spacingAndGlyphs">22121.0</text>
<rect x="1627" y="420" width="2" height="1"/>
<text x="1631.40" y="424" font-family="DejaVu Sans Condensed, DejaVu Sans, Liberation Sans, sans-serif" font-size="9.6" fill="#000" stroke="#000" stroke-width="0.2" textLength="34.08" lengthAdjust="spacingAndGlyphs">21411.5</text>
<rect x="1627" y="453" width="2" height="1"/>
<text x="1631.40" y="457" font-family="DejaVu Sans Condensed, DejaVu Sans, Liberation Sans, sans-serif" font-size="9.6" fill="#000" stroke="#000" stroke-width="0.2" textLength="34.08" lengthAdjust="spacingAndGlyphs">20680.5</text>
<rect x="1627" y="486" width="2" height="1"/>
<text x="1631.40" y="490" font-family="DejaVu Sans Condensed, DejaVu Sans, Liberation Sans, sans-serif" font-size="9.6" fill="#000" stroke="#000" stroke-width="0.2" textLength="34.08" lengthAdjust="spacingAndGlyphs">19949.5</text>
<rect x="1627" y="519" width="2" height="1"/>
<text x="1631.40" y="523" font-family="DejaVu Sans Condensed, DejaVu Sans, Liberation Sans, sans-serif" font-size="9.6" fill="#000" stroke="#000" stroke-width="0.2" textLength="34.08" lengthAdjust="spacingAndGlyphs">19240.5</text>
<rect x="1627" y="552" width="2" height="1"/>
<text x="1631.40" y="556" font-family="DejaVu Sans Condensed, DejaVu Sans, Liberation Sans, sans-serif" font-size="9.6" fill="#000" stroke="#000" stroke-width="0.2" textLength="34.08" lengthAdjust="spacingAndGlyphs">18509.5</text>
<rect x="1627" y="585" width="2" height="1"/>
<text x="1631.40" y="589" font-family="DejaVu Sans Condensed, DejaVu Sans, Liberation Sans, sans-serif" font-size="9.6" fill="#000" stroke="#000" stroke-width="0.2" textLength="34.08" lengthAdjust="spacingAndGlyphs">17799.5</text>
<rect x="1628" y="185" width="41" height="11" fill="#ff0000"/>
<text x="1631.40" y="194" font-family="DejaVu Sans Condensed, DejaVu Sans, Liberation Sans, sans-serif" font-size="9.6" fill="#fff" stroke="#fff" stroke-width="0.15" textLength="34.08" lengthAdjust="spacingAndGlyphs">26418.5</text>
<rect x="1628" y="205" width="41" height="11" fill="#ff0000"/>
<text x="1631.40" y="214" font-family="DejaVu Sans Condensed, DejaVu Sans, Liberation Sans, sans-serif" font-size="9.6" fill="#fff" stroke="#fff" stroke-width="0.15" textLength="34.08" lengthAdjust="spacingAndGlyphs">25981.0</text>
<rect x="1628" y="232" width="41" height="11" fill="#000000"/>
<text x="1631.40" y="241" font-family="DejaVu Sans Condensed, DejaVu Sans, Liberation Sans, sans-serif" font-size="9.6" fill="#fff" stroke="#fff" stroke-width="0.15" textLength="34.08" lengthAdjust="spacingAndGlyphs">25423.0</text>
<rect x="1628" y="242" width="41" height="11" fill="#32cd32"/>
<text x="1631.40" y="251" font-family="DejaVu Sans Condensed, DejaVu Sans, Liberation Sans, sans-serif" font-size="9.6" fill="#fff" stroke="#fff" stroke-width="0.15" textLength="34.08" lengthAdjust="spacingAndGlyphs">25171.7</text>
<rect x="1628" y="267" width="41" height="11" fill="#0000ff"/>
<text x="1631.40" y="276" font-family="DejaVu Sans Condensed, DejaVu Sans, Liberation Sans, sans-serif" font-size="9.6" fill="#fff" stroke="#fff" stroke-width="0.15" textLength="34.08" lengthAdjust="spacingAndGlyphs">24624.9</text>
<rect x="1628" y="287" width="41" height="11" fill="#0000ff"/>
<text x="1631.40" y="296" font-family="DejaVu Sans Condensed, DejaVu Sans, Liberation Sans, sans-serif" font-size="9.6" fill="#fff" stroke="#fff" stroke-width="0.15" textLength="34.08" lengthAdjust="spacingAndGlyphs">24187.5</text>
<rect x="1627" y="592" width="2" height="1"/><rect x="1627" y="621" width="2" height="1"/><rect x="1627" y="745" width="2" height="1"/>
<text x="1629.40" y="602" font-family="DejaVu Sans Condensed, DejaVu Sans, Liberation Sans, sans-serif" font-size="9.6" fill="#000" stroke="#000" stroke-width="0.2" textLength="28.84" lengthAdjust="spacingAndGlyphs">572.14</text>
<text x="1629.40" y="625" font-family="DejaVu Sans Condensed, DejaVu Sans, Liberation Sans, sans-serif" font-size="9.6" fill="#000" stroke="#000" stroke-width="0.2" textLength="18.35" lengthAdjust="spacingAndGlyphs">0.00</text>
<text x="1629.40" y="743" font-family="DejaVu Sans Condensed, DejaVu Sans, Liberation Sans, sans-serif" font-size="9.6" fill="#000" stroke="#000" stroke-width="0.2" textLength="37.05" lengthAdjust="spacingAndGlyphs">-2411.71</text>
<rect x="1627" y="750" width="2" height="1"/>
<text x="1629.40" y="760" font-family="DejaVu Sans Condensed, DejaVu Sans, Liberation Sans, sans-serif" font-size="9.6" fill="#000" stroke="#000" stroke-width="0.2" textLength="15.74" lengthAdjust="spacingAndGlyphs">100</text>
<text x="1628.60" y="788" font-family="DejaVu Sans Condensed, DejaVu Sans, Liberation Sans, sans-serif" font-size="9.6" fill="#000" stroke="#000" stroke-width="0.2" textLength="10.49" lengthAdjust="spacingAndGlyphs">80</text>
<text x="1628.60" y="839" font-family="DejaVu Sans Condensed, DejaVu Sans, Liberation Sans, sans-serif" font-size="9.6" fill="#000" stroke="#000" stroke-width="0.2" textLength="10.49" lengthAdjust="spacingAndGlyphs">50</text>
<text x="1628.60" y="900" font-family="DejaVu Sans Condensed, DejaVu Sans, Liberation Sans, sans-serif" font-size="9.6" fill="#000" stroke="#000" stroke-width="0.2" textLength="10.49" lengthAdjust="spacingAndGlyphs">15</text>
<text x="1629.40" y="919" font-family="DejaVu Sans Condensed, DejaVu Sans, Liberation Sans, sans-serif" font-size="9.6" fill="#000" stroke="#000" stroke-width="0.2" textLength="5.25" lengthAdjust="spacingAndGlyphs">0</text>
<rect x="1627" y="921" width="2" height="1"/>
<rect x="-12" y="923" width="1" height="3"/>
<text x="-11.94" y="935" font-family="DejaVu Sans Condensed, DejaVu Sans, Liberation Sans, sans-serif" font-size="9.3" fill="#000" stroke="#000" stroke-width="0.2" textLength="48.54" lengthAdjust="spacingAndGlyphs">6 Nov 2019</text>
<rect x="52" y="923" width="1" height="3"/>
<text x="51.20" y="935" font-family="DejaVu Sans Condensed, DejaVu Sans, Liberation Sans, sans-serif" font-size="9.3" fill="#000" stroke="#000" stroke-width="0.2" textLength="53.72" lengthAdjust="spacingAndGlyphs">15 Nov 2019</text>
<rect x="116" y="923" width="1" height="3"/>
<text x="115.20" y="935" font-family="DejaVu Sans Condensed, DejaVu Sans, Liberation Sans, sans-serif" font-size="9.3" fill="#000" stroke="#000" stroke-width="0.2" textLength="53.72" lengthAdjust="spacingAndGlyphs">25 Nov 2019</text>
<rect x="180" y="923" width="1" height="3"/>
<text x="179.20" y="935" font-family="DejaVu Sans Condensed, DejaVu Sans, Liberation Sans, sans-serif" font-size="9.3" fill="#000" stroke="#000" stroke-width="0.2" textLength="48.25" lengthAdjust="spacingAndGlyphs">4 Dec 2019</text>
<rect x="244" y="923" width="1" height="3"/>
<text x="243.20" y="935" font-family="DejaVu Sans Condensed, DejaVu Sans, Liberation Sans, sans-serif" font-size="9.3" fill="#000" stroke="#000" stroke-width="0.2" textLength="53.60" lengthAdjust="spacingAndGlyphs">13 Dec 2019</text>
<rect x="308" y="923" width="1" height="3"/>
<text x="307.20" y="935" font-family="DejaVu Sans Condensed, DejaVu Sans, Liberation Sans, sans-serif" font-size="9.3" fill="#000" stroke="#000" stroke-width="0.2" textLength="53.60" lengthAdjust="spacingAndGlyphs">23 Dec 2019</text>
<rect x="372" y="923" width="1" height="3"/>
<text x="371.20" y="935" font-family="DejaVu Sans Condensed, DejaVu Sans, Liberation Sans, sans-serif" font-size="9.3" fill="#000" stroke="#000" stroke-width="0.2" textLength="44.95" lengthAdjust="spacingAndGlyphs">1 Jan 2020</text>
<rect x="436" y="923" width="1" height="3"/>
<text x="435.20" y="935" font-family="DejaVu Sans Condensed, DejaVu Sans, Liberation Sans, sans-serif" font-size="9.3" fill="#000" stroke="#000" stroke-width="0.2" textLength="50.29" lengthAdjust="spacingAndGlyphs">10 Jan 2020</text>
<rect x="500" y="923" width="1" height="3"/>
<text x="499.20" y="935" font-family="DejaVu Sans Condensed, DejaVu Sans, Liberation Sans, sans-serif" font-size="9.3" fill="#000" stroke="#000" stroke-width="0.2" textLength="50.29" lengthAdjust="spacingAndGlyphs">20 Jan 2020</text>
<rect x="564" y="923" width="1" height="3"/>
<text x="563.20" y="935" font-family="DejaVu Sans Condensed, DejaVu Sans, Liberation Sans, sans-serif" font-size="9.3" fill="#000" stroke="#000" stroke-width="0.2" textLength="50.29" lengthAdjust="spacingAndGlyphs">29 Jan 2020</text>
<rect x="628" y="923" width="1" height="3"/>
<text x="627.20" y="935" font-family="DejaVu Sans Condensed, DejaVu Sans, Liberation Sans, sans-serif" font-size="9.3" fill="#000" stroke="#000" stroke-width="0.2" textLength="46.82" lengthAdjust="spacingAndGlyphs">7 Feb 2020</text>
<rect x="692" y="923" width="1" height="3"/>
<text x="691.20" y="935" font-family="DejaVu Sans Condensed, DejaVu Sans, Liberation Sans, sans-serif" font-size="9.3" fill="#000" stroke="#000" stroke-width="0.2" textLength="52.15" lengthAdjust="spacingAndGlyphs">17 Feb 2020</text>
<rect x="756" y="923" width="1" height="3"/>
<text x="755.20" y="935" font-family="DejaVu Sans Condensed, DejaVu Sans, Liberation Sans, sans-serif" font-size="9.3" fill="#000" stroke="#000" stroke-width="0.2" textLength="52.15" lengthAdjust="spacingAndGlyphs">26 Feb 2020</text>
<rect x="820" y="923" width="1" height="3"/>
<text x="819.20" y="935" font-family="DejaVu Sans Condensed, DejaVu Sans, Liberation Sans, sans-serif" font-size="9.3" fill="#000" stroke="#000" stroke-width="0.2" textLength="47.84" lengthAdjust="spacingAndGlyphs">6 Mar 2020</text>
<rect x="884" y="923" width="1" height="3"/>
<text x="883.20" y="935" font-family="DejaVu Sans Condensed, DejaVu Sans, Liberation Sans, sans-serif" font-size="9.3" fill="#000" stroke="#000" stroke-width="0.2" textLength="53.19" lengthAdjust="spacingAndGlyphs">16 Mar 2020</text>
<rect x="948" y="923" width="1" height="3"/>
<text x="947.20" y="935" font-family="DejaVu Sans Condensed, DejaVu Sans, Liberation Sans, sans-serif" font-size="9.3" fill="#000" stroke="#000" stroke-width="0.2" textLength="53.19" lengthAdjust="spacingAndGlyphs">25 Mar 2020</text>
<rect x="1012" y="923" width="1" height="3"/>
<text x="1011.20" y="935" font-family="DejaVu Sans Condensed, DejaVu Sans, Liberation Sans, sans-serif" font-size="9.3" fill="#000" stroke="#000" stroke-width="0.2" textLength="46.53" lengthAdjust="spacingAndGlyphs">3 Apr 2020</text>
<rect x="1076" y="923" width="1" height="3"/>
<text x="1075.20" y="935" font-family="DejaVu Sans Condensed, DejaVu Sans, Liberation Sans, sans-serif" font-size="9.3" fill="#000" stroke="#000" stroke-width="0.2" textLength="51.87" lengthAdjust="spacingAndGlyphs">14 Apr 2020</text>
<rect x="1140" y="923" width="1" height="3"/>
<text x="1139.20" y="935" font-family="DejaVu Sans Condensed, DejaVu Sans, Liberation Sans, sans-serif" font-size="9.3" fill="#000" stroke="#000" stroke-width="0.2" textLength="51.87" lengthAdjust="spacingAndGlyphs">23 Apr 2020</text>
<rect x="1204" y="923" width="1" height="3"/>
<text x="1203.20" y="935" font-family="DejaVu Sans Condensed, DejaVu Sans, Liberation Sans, sans-serif" font-size="9.3" fill="#000" stroke="#000" stroke-width="0.2" textLength="49.36" lengthAdjust="spacingAndGlyphs">3 May 2020</text>
<rect x="1268" y="923" width="1" height="3"/>
<text x="1267.20" y="935" font-family="DejaVu Sans Condensed, DejaVu Sans, Liberation Sans, sans-serif" font-size="9.3" fill="#000" stroke="#000" stroke-width="0.2" textLength="54.69" lengthAdjust="spacingAndGlyphs">12 May 2020</text>
<rect x="1332" y="923" width="1" height="3"/>
<text x="1331.20" y="935" font-family="DejaVu Sans Condensed, DejaVu Sans, Liberation Sans, sans-serif" font-size="9.3" fill="#000" stroke="#000" stroke-width="0.2" textLength="54.69" lengthAdjust="spacingAndGlyphs">21 May 2020</text>
<text x="-6.10" y="603" font-family="DejaVu Sans Condensed, DejaVu Sans, Liberation Sans, sans-serif" font-size="9.6" fill="#000" stroke="#000" stroke-width="0.2" textLength="126.20" lengthAdjust="spacingAndGlyphs">MACD(12,26,9) 436.51 284.48</text>
<text x="-7.20" y="761" font-family="DejaVu Sans Condensed, DejaVu Sans, Liberation Sans, sans-serif" font-size="9.6" fill="#000" stroke="#000" stroke-width="0.2" textLength="67.40" lengthAdjust="spacingAndGlyphs">RSI(14) 64.3997</text>
<text x="2.60" y="33" font-family="DejaVu Sans Condensed, DejaVu Sans, Liberation Sans, sans-serif" font-size="9.6" fill="#000" stroke="#000" stroke-width="0.2" textLength="49.30" lengthAdjust="spacingAndGlyphs">DJ30-,Daily</text>
<text x="57.60" y="33" font-family="DejaVu Sans Condensed, DejaVu Sans, Liberation Sans, sans-serif" font-size="9.6" fill="#000" stroke="#000" stroke-width="0.2" textLength="141.40" lengthAdjust="spacingAndGlyphs">25636.0 25788.0 25309.0 25423.0</text></g>
<!-- chart shift marker -->
<polygon points="1391,22 1400,22 1395.5,27" fill="#c0c0c0"/>
<!-- one click trading panel -->
<g shape-rendering="crispEdges">
<rect x="0" y="41" width="43" height="25" fill="#b00000"/>
<rect x="0" y="42" width="42" height="22" fill="url(#gTab)"/>
<rect x="0" y="64" width="39" height="1" fill="#800000"/>
<rect x="0" y="65" width="39" height="1" fill="#ff7070"/>
<rect x="39" y="64" width="3" height="2" fill="#e83a3a"/>
<rect x="0" y="65" width="100" height="40" fill="#b00000"/>
<rect x="0" y="66" width="99" height="38" fill="url(#gBox)"/>
<rect x="0" y="64" width="39" height="1" fill="#800000"/>
<rect x="0" y="65" width="39" height="1" fill="#ff7070"/>
<rect x="158" y="41" width="52" height="25" fill="#b00000"/>
<rect x="159" y="42" width="50" height="22" fill="url(#gTab)"/>
<rect x="162" y="64" width="45" height="1" fill="#800000"/>
<rect x="162" y="65" width="45" height="1" fill="#ff7070"/>
<rect x="102" y="65" width="108" height="40" fill="#b00000"/>
<rect x="103" y="66" width="106" height="38" fill="url(#gBox)"/>
<rect x="162" y="64" width="45" height="1" fill="#800000"/>
<rect x="162" y="65" width="45" height="1" fill="#ff7070"/>
<rect x="159" y="64" width="3" height="2" fill="#e83a3a"/>
<rect x="207" y="64" width="2" height="2" fill="#e83a3a"/>
<!-- spinner -->
<rect x="45" y="41" width="111" height="22" fill="#a8acb4"/>
<rect x="46" y="42" width="109" height="20" fill="#fff"/>
<rect x="66" y="42" width="1" height="20" fill="#a8acb4"/>
<rect x="134" y="42" width="1" height="20" fill="#a8acb4"/>
<rect x="47" y="43" width="18" height="18" fill="url(#gBtn)"/>
<rect x="136" y="43" width="18" height="18" fill="url(#gBtn)"/>
</g>
<polygon points="53,50 58,50 55.5,53" fill="#4a62c8"/>
<polygon points="142,52 147,52 144.5,49" fill="#4a62c8"/>
<g fill="#fff" font-family="Liberation Sans, sans-serif">
<text x="3" y="57" font-size="12.2" font-family="DejaVu Sans Condensed, DejaVu Sans, sans-serif" textLength="26.5" lengthAdjust="spacingAndGlyphs">SELL</text>
<text x="171.5" y="57" font-size="12.2" font-family="DejaVu Sans Condensed, DejaVu Sans, sans-serif" textLength="23.5" lengthAdjust="spacingAndGlyphs">BUY</text>
<text x="7" y="96" font-size="12.4" font-weight="bold" font-family="DejaVu Sans Condensed, DejaVu Sans, sans-serif" textLength="35" lengthAdjust="spacingAndGlyphs">25421</text>
<text x="43.5" y="96" font-size="32.8" font-family="DejaVu Sans Condensed, DejaVu Sans, sans-serif" stroke="url(#gBoxU)" stroke-width="0.4" paint-order="fill">.5</text>
<text x="117" y="96" font-size="12.4" font-weight="bold" font-family="DejaVu Sans Condensed, DejaVu Sans, sans-serif" textLength="35" lengthAdjust="spacingAndGlyphs">25433</text>
<text x="154.5" y="96" font-size="32.8" font-family="DejaVu Sans Condensed, DejaVu Sans, sans-serif" stroke="url(#gBoxU)" stroke-width="0.4" paint-order="fill">.5</text>
</g>
<text x="131.5" y="56" font-size="12.2" fill="#000" text-anchor="end" font-family="DejaVu Sans Condensed, DejaVu Sans, sans-serif">1.00</text>
<!-- annotations -->
<rect x="1285" y="244" width="118" height="9" fill="#00ff00" shape-rendering="crispEdges"/>
<rect x="1429" y="248" width="10" height="1" fill="#ff0000"/>
<rect x="1439.5" y="236.5" width="73" height="24" fill="#fff" stroke="#ff0000" stroke-width="1"/>
<text x="1441" y="257" font-size="22" fill="#ff0000" font-family="DejaVu Sans Condensed, DejaVu Sans, sans-serif" textLength="70" lengthAdjust="spacingAndGlyphs">25171.7</text>
<g font-family="Noto Serif CJK SC, Noto Sans CJK SC, serif" font-size="32" font-weight="500">
<text x="1442" y="310" fill="#000">多空转折点</text>
<text x="1441" y="309" fill="#00ff00">多空转折点</text>
</g>
<!-- arrows -->
<g stroke="#ff0000" stroke-width="3.6" fill="none" stroke-linecap="round">
<line x1="1283.6" y1="361.6" x2="1314.3" y2="278.8"/>
<line x1="1318" y1="270" x2="1340.5" y2="290.4"/>
<line x1="1348.3" y1="297" x2="1402.1" y2="217.0"/>
</g>
<g fill="#ff0000">
<polygon points="1318.3,268.3 1318.0,282.3 1309.3,279.1"/>
<polygon points="1348.9,297.9 1335.9,292.4 1342.1,285.6"/>
<polygon points="1408.4,207.6 1404.8,221.2 1397.2,216.1"/>
</g>

</svg>
</body></html>
